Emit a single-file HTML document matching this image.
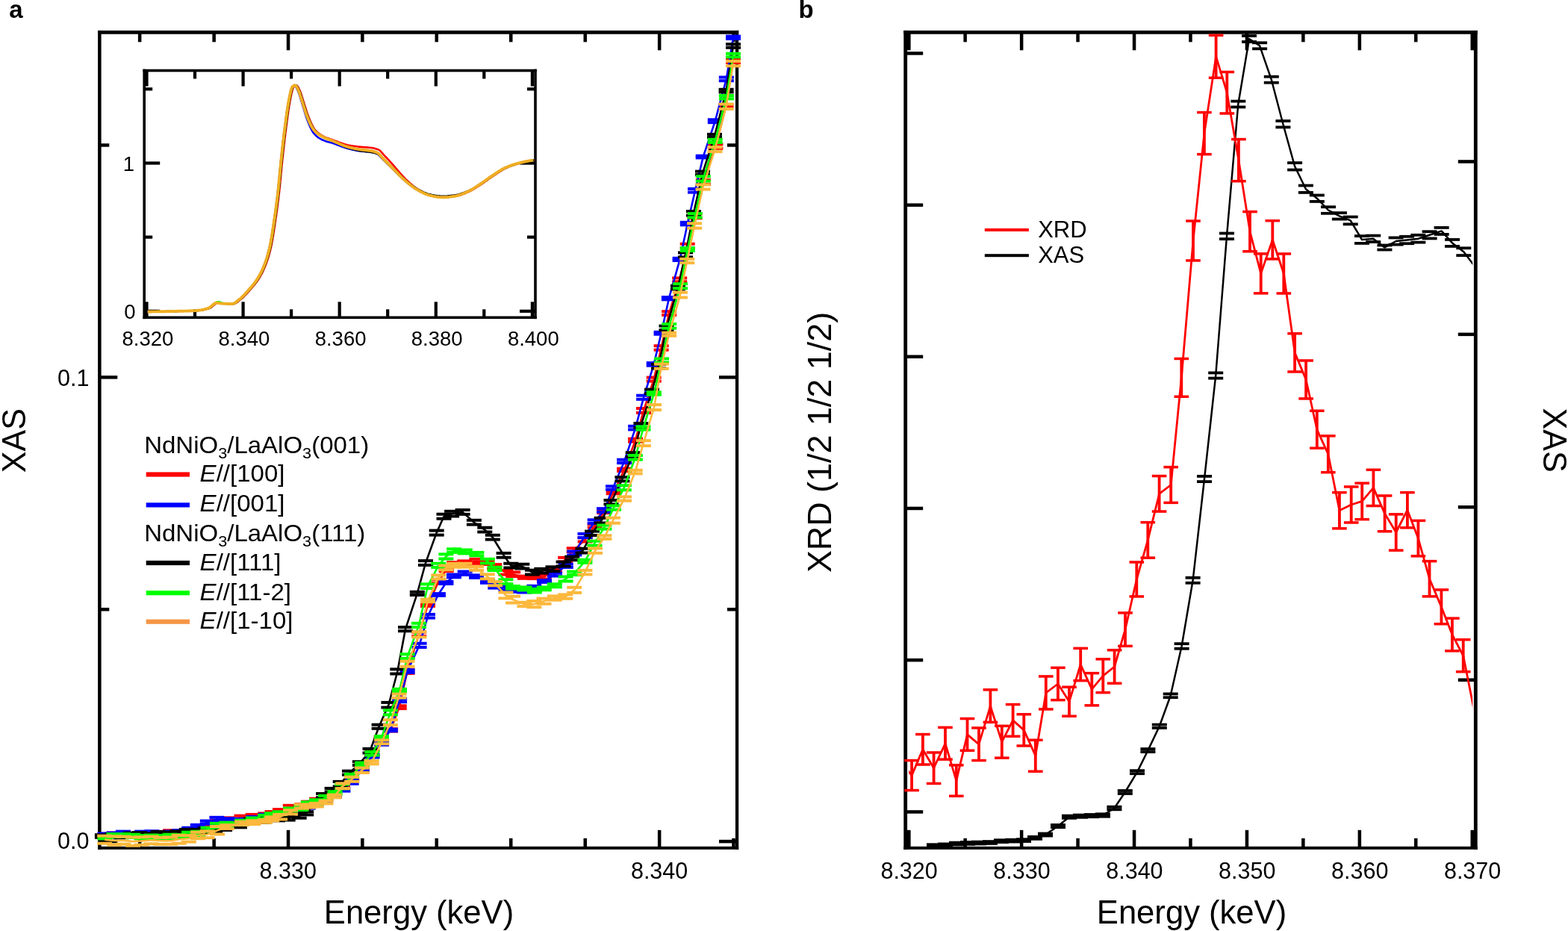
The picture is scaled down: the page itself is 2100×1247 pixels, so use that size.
<!DOCTYPE html>
<html><head><meta charset="utf-8"><title>XAS / XRD figure</title>
<style>html,body{margin:0;padding:0;background:#fff;overflow:hidden}svg{display:block}</style>
</head><body>
<svg width="2100" height="1247" viewBox="0 0 2100 1247" font-family='"Liberation Sans", Arial, Helvetica, sans-serif'>
<rect width="2100" height="1247" fill="#fff"/>
<defs><clipPath id="ca"><rect x="133.3" y="43.3" width="853.7" height="1092.5"/></clipPath>
<clipPath id="cb"><rect x="1217.2" y="43.3" width="755" height="1092.5"/></clipPath></defs>
<rect x="131.1" y="40.9" width="858.1" height="4.8" fill="#000000"/>
<rect x="131.1" y="1133.8" width="858.1" height="4" fill="#000000"/>
<rect x="131.1" y="40.9" width="4.5" height="1096.9" fill="#000000"/>
<rect x="984.9" y="40.9" width="4.3" height="1096.9" fill="#000000"/>
<rect x="184.9" y="43.3" width="4.5" height="13" fill="#000000"/>
<rect x="184.9" y="1122.8" width="4.5" height="13" fill="#000000"/>
<rect x="284.4" y="43.3" width="4.5" height="13" fill="#000000"/>
<rect x="284.4" y="1122.8" width="4.5" height="13" fill="#000000"/>
<rect x="383.8" y="43.3" width="4.5" height="24" fill="#000000"/>
<rect x="383.8" y="1111.8" width="4.5" height="24" fill="#000000"/>
<rect x="483.1" y="43.3" width="4.5" height="13" fill="#000000"/>
<rect x="483.1" y="1122.8" width="4.5" height="13" fill="#000000"/>
<rect x="582.5" y="43.3" width="4.5" height="13" fill="#000000"/>
<rect x="582.5" y="1122.8" width="4.5" height="13" fill="#000000"/>
<rect x="682" y="43.3" width="4.5" height="13" fill="#000000"/>
<rect x="682" y="1122.8" width="4.5" height="13" fill="#000000"/>
<rect x="781.5" y="43.3" width="4.5" height="13" fill="#000000"/>
<rect x="781.5" y="1122.8" width="4.5" height="13" fill="#000000"/>
<rect x="880.9" y="43.3" width="4.5" height="24" fill="#000000"/>
<rect x="880.9" y="1111.8" width="4.5" height="24" fill="#000000"/>
<rect x="980.2" y="43.3" width="4.5" height="13" fill="#000000"/>
<rect x="980.2" y="1122.8" width="4.5" height="13" fill="#000000"/>
<rect x="133.3" y="1124.8" width="24" height="4.5" fill="#000000"/>
<rect x="963" y="1124.8" width="24" height="4.5" fill="#000000"/>
<rect x="133.3" y="814" width="13" height="4.5" fill="#000000"/>
<rect x="974" y="814" width="13" height="4.5" fill="#000000"/>
<rect x="133.3" y="503.1" width="24" height="4.5" fill="#000000"/>
<rect x="963" y="503.1" width="24" height="4.5" fill="#000000"/>
<rect x="133.3" y="192.2" width="13" height="4.5" fill="#000000"/>
<rect x="974" y="192.2" width="13" height="4.5" fill="#000000"/>
<g clip-path="url(#ca)">
<polyline points="140.5,1119.8 152.9,1118.4 164.9,1119 177.2,1119.1 190,1117 202.9,1116.9 214.8,1116.5 228.1,1114.5 240.1,1116.2 252.7,1114.6 264.7,1111.4 277.9,1106.4 291.2,1100.9 304.2,1097.2 323.6,1095.4 338.7,1092.9 355.2,1091.6 364.5,1089.1 375,1086.6 388.8,1081.2 404.3,1079.6 412.9,1075.7 424.2,1071.7 436.5,1069.5 448.2,1062.7 459,1054.9 471.2,1044.2 484.8,1025.3 498.4,1008.3 510.6,988.9 523.1,977.9 534.7,947.2 545.4,899.4 561.2,849.4 573,810.3 587.4,778.9 597.7,763.5 608.2,755.6 622.2,753.9 638.4,751.8 652.4,754 662.2,758.9 677.4,766.8 687.2,769.3 702.9,773.2 715.7,772.9 728.8,772.6 743.1,764.1 757.1,749.5 768.7,736.6 783.7,722.9 796.7,704.2 809.3,685.4 821.7,659.5 836.1,629.4 851,589.7 862,549.9 875.7,508.1 885.6,466 896.1,419.6 910.2,374.9 920.7,329.5 930.6,289.4 941.9,243.9 958.4,196 972.4,141.9 982,81.9" fill="none" stroke="#ff0000" stroke-width="2.6" stroke-linejoin="round" />
</g>
<rect x="130.5" y="1115.9" width="20" height="4" fill="#ff0000"/>
<rect x="130.5" y="1119.8" width="20" height="4" fill="#ff0000"/>
<rect x="142.9" y="1113.6" width="20" height="4" fill="#ff0000"/>
<rect x="142.9" y="1119.2" width="20" height="4" fill="#ff0000"/>
<rect x="154.9" y="1115.1" width="20" height="4" fill="#ff0000"/>
<rect x="154.9" y="1118.9" width="20" height="4" fill="#ff0000"/>
<rect x="167.2" y="1114.2" width="20" height="4" fill="#ff0000"/>
<rect x="167.2" y="1120" width="20" height="4" fill="#ff0000"/>
<rect x="180" y="1112.7" width="20" height="4" fill="#ff0000"/>
<rect x="180" y="1117.3" width="20" height="4" fill="#ff0000"/>
<rect x="192.9" y="1112.4" width="20" height="4" fill="#ff0000"/>
<rect x="192.9" y="1117.3" width="20" height="4" fill="#ff0000"/>
<rect x="204.8" y="1111.9" width="20" height="4" fill="#ff0000"/>
<rect x="204.8" y="1117.2" width="20" height="4" fill="#ff0000"/>
<rect x="218.1" y="1110.2" width="20" height="4" fill="#ff0000"/>
<rect x="218.1" y="1114.8" width="20" height="4" fill="#ff0000"/>
<rect x="230.1" y="1112.2" width="20" height="4" fill="#ff0000"/>
<rect x="230.1" y="1116.3" width="20" height="4" fill="#ff0000"/>
<rect x="242.7" y="1110.7" width="20" height="4" fill="#ff0000"/>
<rect x="242.7" y="1114.4" width="20" height="4" fill="#ff0000"/>
<rect x="254.7" y="1107.7" width="20" height="4" fill="#ff0000"/>
<rect x="254.7" y="1111.1" width="20" height="4" fill="#ff0000"/>
<rect x="267.9" y="1101.8" width="20" height="4" fill="#ff0000"/>
<rect x="267.9" y="1107" width="20" height="4" fill="#ff0000"/>
<rect x="281.2" y="1096.7" width="20" height="4" fill="#ff0000"/>
<rect x="281.2" y="1101.1" width="20" height="4" fill="#ff0000"/>
<rect x="294.2" y="1093.3" width="20" height="4" fill="#ff0000"/>
<rect x="294.2" y="1097" width="20" height="4" fill="#ff0000"/>
<rect x="313.6" y="1090.6" width="20" height="4" fill="#ff0000"/>
<rect x="313.6" y="1096.2" width="20" height="4" fill="#ff0000"/>
<rect x="328.7" y="1088.9" width="20" height="4" fill="#ff0000"/>
<rect x="328.7" y="1092.9" width="20" height="4" fill="#ff0000"/>
<rect x="345.2" y="1087.4" width="20" height="4" fill="#ff0000"/>
<rect x="345.2" y="1091.8" width="20" height="4" fill="#ff0000"/>
<rect x="354.5" y="1085.1" width="20" height="4" fill="#ff0000"/>
<rect x="354.5" y="1089.1" width="20" height="4" fill="#ff0000"/>
<rect x="365" y="1082.1" width="20" height="4" fill="#ff0000"/>
<rect x="365" y="1087" width="20" height="4" fill="#ff0000"/>
<rect x="378.8" y="1076.8" width="20" height="4" fill="#ff0000"/>
<rect x="378.8" y="1081.7" width="20" height="4" fill="#ff0000"/>
<rect x="394.3" y="1075.2" width="20" height="4" fill="#ff0000"/>
<rect x="394.3" y="1080" width="20" height="4" fill="#ff0000"/>
<rect x="402.9" y="1071.7" width="20" height="4" fill="#ff0000"/>
<rect x="402.9" y="1075.6" width="20" height="4" fill="#ff0000"/>
<rect x="414.2" y="1067.7" width="20" height="4" fill="#ff0000"/>
<rect x="414.2" y="1071.7" width="20" height="4" fill="#ff0000"/>
<rect x="426.5" y="1065.6" width="20" height="4" fill="#ff0000"/>
<rect x="426.5" y="1069.5" width="20" height="4" fill="#ff0000"/>
<rect x="438.2" y="1058.6" width="20" height="4" fill="#ff0000"/>
<rect x="438.2" y="1062.7" width="20" height="4" fill="#ff0000"/>
<rect x="449" y="1051.1" width="20" height="4" fill="#ff0000"/>
<rect x="449" y="1054.7" width="20" height="4" fill="#ff0000"/>
<rect x="461.2" y="1040.4" width="20" height="4" fill="#ff0000"/>
<rect x="461.2" y="1044" width="20" height="4" fill="#ff0000"/>
<rect x="474.8" y="1020.3" width="20" height="4" fill="#ff0000"/>
<rect x="474.8" y="1026.2" width="20" height="4" fill="#ff0000"/>
<rect x="488.4" y="1003.4" width="20" height="4" fill="#ff0000"/>
<rect x="488.4" y="1009.3" width="20" height="4" fill="#ff0000"/>
<rect x="500.6" y="985" width="20" height="4" fill="#ff0000"/>
<rect x="500.6" y="988.7" width="20" height="4" fill="#ff0000"/>
<rect x="513.1" y="974.2" width="20" height="4" fill="#ff0000"/>
<rect x="513.1" y="977.5" width="20" height="4" fill="#ff0000"/>
<rect x="524.7" y="943.3" width="20" height="4" fill="#ff0000"/>
<rect x="524.7" y="947.1" width="20" height="4" fill="#ff0000"/>
<rect x="535.4" y="894.8" width="20" height="4" fill="#ff0000"/>
<rect x="535.4" y="900" width="20" height="4" fill="#ff0000"/>
<rect x="551.2" y="844.7" width="20" height="4" fill="#ff0000"/>
<rect x="551.2" y="850.1" width="20" height="4" fill="#ff0000"/>
<rect x="563" y="806.6" width="20" height="4" fill="#ff0000"/>
<rect x="563" y="809.9" width="20" height="4" fill="#ff0000"/>
<rect x="577.4" y="774.4" width="20" height="4" fill="#ff0000"/>
<rect x="577.4" y="779.3" width="20" height="4" fill="#ff0000"/>
<rect x="587.7" y="759.9" width="20" height="4" fill="#ff0000"/>
<rect x="587.7" y="763.1" width="20" height="4" fill="#ff0000"/>
<rect x="598.2" y="751.2" width="20" height="4" fill="#ff0000"/>
<rect x="598.2" y="755.9" width="20" height="4" fill="#ff0000"/>
<rect x="612.2" y="749.4" width="20" height="4" fill="#ff0000"/>
<rect x="612.2" y="754.4" width="20" height="4" fill="#ff0000"/>
<rect x="628.4" y="746.8" width="20" height="4" fill="#ff0000"/>
<rect x="628.4" y="752.8" width="20" height="4" fill="#ff0000"/>
<rect x="642.4" y="750.1" width="20" height="4" fill="#ff0000"/>
<rect x="642.4" y="754" width="20" height="4" fill="#ff0000"/>
<rect x="652.2" y="754.1" width="20" height="4" fill="#ff0000"/>
<rect x="652.2" y="759.6" width="20" height="4" fill="#ff0000"/>
<rect x="667.4" y="762" width="20" height="4" fill="#ff0000"/>
<rect x="667.4" y="767.6" width="20" height="4" fill="#ff0000"/>
<rect x="677.2" y="764.4" width="20" height="4" fill="#ff0000"/>
<rect x="677.2" y="770.1" width="20" height="4" fill="#ff0000"/>
<rect x="692.9" y="769.6" width="20" height="4" fill="#ff0000"/>
<rect x="692.9" y="772.8" width="20" height="4" fill="#ff0000"/>
<rect x="705.7" y="768.6" width="20" height="4" fill="#ff0000"/>
<rect x="705.7" y="773.1" width="20" height="4" fill="#ff0000"/>
<rect x="718.8" y="767.6" width="20" height="4" fill="#ff0000"/>
<rect x="718.8" y="773.5" width="20" height="4" fill="#ff0000"/>
<rect x="733.1" y="759.9" width="20" height="4" fill="#ff0000"/>
<rect x="733.1" y="764.2" width="20" height="4" fill="#ff0000"/>
<rect x="747.1" y="744.8" width="20" height="4" fill="#ff0000"/>
<rect x="747.1" y="750.3" width="20" height="4" fill="#ff0000"/>
<rect x="758.7" y="732.3" width="20" height="4" fill="#ff0000"/>
<rect x="758.7" y="737" width="20" height="4" fill="#ff0000"/>
<rect x="773.7" y="718.2" width="20" height="4" fill="#ff0000"/>
<rect x="773.7" y="723.5" width="20" height="4" fill="#ff0000"/>
<rect x="786.7" y="700" width="20" height="4" fill="#ff0000"/>
<rect x="786.7" y="704.5" width="20" height="4" fill="#ff0000"/>
<rect x="799.3" y="681.8" width="20" height="4" fill="#ff0000"/>
<rect x="799.3" y="685.1" width="20" height="4" fill="#ff0000"/>
<rect x="811.7" y="655.8" width="20" height="4" fill="#ff0000"/>
<rect x="811.7" y="659.2" width="20" height="4" fill="#ff0000"/>
<rect x="826.1" y="625.6" width="20" height="4" fill="#ff0000"/>
<rect x="826.1" y="629.1" width="20" height="4" fill="#ff0000"/>
<rect x="841" y="585.7" width="20" height="4" fill="#ff0000"/>
<rect x="841" y="589.6" width="20" height="4" fill="#ff0000"/>
<rect x="852" y="545" width="20" height="4" fill="#ff0000"/>
<rect x="852" y="550.9" width="20" height="4" fill="#ff0000"/>
<rect x="865.7" y="503.6" width="20" height="4" fill="#ff0000"/>
<rect x="865.7" y="508.6" width="20" height="4" fill="#ff0000"/>
<rect x="875.6" y="461.2" width="20" height="4" fill="#ff0000"/>
<rect x="875.6" y="466.7" width="20" height="4" fill="#ff0000"/>
<rect x="886.1" y="415.2" width="20" height="4" fill="#ff0000"/>
<rect x="886.1" y="420" width="20" height="4" fill="#ff0000"/>
<rect x="900.2" y="370.4" width="20" height="4" fill="#ff0000"/>
<rect x="900.2" y="375.3" width="20" height="4" fill="#ff0000"/>
<rect x="910.7" y="324.7" width="20" height="4" fill="#ff0000"/>
<rect x="910.7" y="330.2" width="20" height="4" fill="#ff0000"/>
<rect x="920.6" y="284.5" width="20" height="4" fill="#ff0000"/>
<rect x="920.6" y="290.3" width="20" height="4" fill="#ff0000"/>
<rect x="931.9" y="239" width="20" height="4" fill="#ff0000"/>
<rect x="931.9" y="244.8" width="20" height="4" fill="#ff0000"/>
<rect x="948.4" y="191.2" width="20" height="4" fill="#ff0000"/>
<rect x="948.4" y="196.7" width="20" height="4" fill="#ff0000"/>
<rect x="962.4" y="138.2" width="20" height="4" fill="#ff0000"/>
<rect x="962.4" y="141.6" width="20" height="4" fill="#ff0000"/>
<rect x="972" y="77.8" width="20" height="4" fill="#ff0000"/>
<rect x="972" y="82" width="20" height="4" fill="#ff0000"/>
<g clip-path="url(#ca)">
<polyline points="140.5,1117.7 152.7,1117.5 164.9,1115.9 178.2,1117.5 190.1,1115.2 203.2,1115 215.1,1115.9 228.4,1115.8 240.3,1113.8 253.2,1110.8 264.8,1106.7 277.8,1101.6 290.4,1097.4 304.2,1098.8 323.5,1098.3 339.3,1096.4 355.6,1092.5 363.7,1091.9 374.8,1089.7 388.9,1087 404.2,1083.4 412.7,1080.9 424,1076.8 435.8,1072.3 447.9,1066.1 459.4,1057.7 470.7,1047.4 485,1031.6 498.6,1012.6 511.1,995.5 522.8,978 535.1,938.2 545.6,899.2 561.6,864.4 573,825.3 586.9,796.5 597.4,780.5 608,771.4 622.7,767.7 638,772.1 653,779 663.3,785.1 677.5,788 687.8,791 702,791.1 715.4,786.5 729,778.5 743,769.5 757.8,757.7 769.3,740.9 783.5,717.5 796.7,698.6 809,683.5 821,653.5 836.1,617.9 851.1,573.1 862.1,532.2 875.7,487.9 885.6,446.3 895.9,399.7 910.6,347.4 920.8,299.5 931,255.3 941.7,210.1 957.8,162.2 972.8,105.8 982,50.2" fill="none" stroke="#0000ff" stroke-width="2.6" stroke-linejoin="round" />
</g>
<rect x="130.5" y="1114.4" width="20" height="4" fill="#0000ff"/>
<rect x="130.5" y="1117.1" width="20" height="4" fill="#0000ff"/>
<rect x="142.7" y="1113.5" width="20" height="4" fill="#0000ff"/>
<rect x="142.7" y="1117.5" width="20" height="4" fill="#0000ff"/>
<rect x="154.9" y="1111.6" width="20" height="4" fill="#0000ff"/>
<rect x="154.9" y="1116.3" width="20" height="4" fill="#0000ff"/>
<rect x="168.2" y="1114.1" width="20" height="4" fill="#0000ff"/>
<rect x="168.2" y="1116.9" width="20" height="4" fill="#0000ff"/>
<rect x="180.1" y="1111.6" width="20" height="4" fill="#0000ff"/>
<rect x="180.1" y="1114.7" width="20" height="4" fill="#0000ff"/>
<rect x="193.2" y="1111.2" width="20" height="4" fill="#0000ff"/>
<rect x="193.2" y="1114.8" width="20" height="4" fill="#0000ff"/>
<rect x="205.1" y="1112.3" width="20" height="4" fill="#0000ff"/>
<rect x="205.1" y="1115.6" width="20" height="4" fill="#0000ff"/>
<rect x="218.4" y="1111.4" width="20" height="4" fill="#0000ff"/>
<rect x="218.4" y="1116.1" width="20" height="4" fill="#0000ff"/>
<rect x="230.3" y="1110" width="20" height="4" fill="#0000ff"/>
<rect x="230.3" y="1113.5" width="20" height="4" fill="#0000ff"/>
<rect x="243.2" y="1106.7" width="20" height="4" fill="#0000ff"/>
<rect x="243.2" y="1110.9" width="20" height="4" fill="#0000ff"/>
<rect x="254.8" y="1102.8" width="20" height="4" fill="#0000ff"/>
<rect x="254.8" y="1106.7" width="20" height="4" fill="#0000ff"/>
<rect x="267.8" y="1097.5" width="20" height="4" fill="#0000ff"/>
<rect x="267.8" y="1101.6" width="20" height="4" fill="#0000ff"/>
<rect x="280.4" y="1092.8" width="20" height="4" fill="#0000ff"/>
<rect x="280.4" y="1097.9" width="20" height="4" fill="#0000ff"/>
<rect x="294.2" y="1094.2" width="20" height="4" fill="#0000ff"/>
<rect x="294.2" y="1099.3" width="20" height="4" fill="#0000ff"/>
<rect x="313.5" y="1094.8" width="20" height="4" fill="#0000ff"/>
<rect x="313.5" y="1097.7" width="20" height="4" fill="#0000ff"/>
<rect x="329.3" y="1092" width="20" height="4" fill="#0000ff"/>
<rect x="329.3" y="1096.8" width="20" height="4" fill="#0000ff"/>
<rect x="345.6" y="1088.7" width="20" height="4" fill="#0000ff"/>
<rect x="345.6" y="1092.2" width="20" height="4" fill="#0000ff"/>
<rect x="353.7" y="1088.4" width="20" height="4" fill="#0000ff"/>
<rect x="353.7" y="1091.3" width="20" height="4" fill="#0000ff"/>
<rect x="364.8" y="1085.9" width="20" height="4" fill="#0000ff"/>
<rect x="364.8" y="1089.5" width="20" height="4" fill="#0000ff"/>
<rect x="378.9" y="1083.1" width="20" height="4" fill="#0000ff"/>
<rect x="378.9" y="1087" width="20" height="4" fill="#0000ff"/>
<rect x="394.2" y="1078.9" width="20" height="4" fill="#0000ff"/>
<rect x="394.2" y="1084" width="20" height="4" fill="#0000ff"/>
<rect x="402.7" y="1077.1" width="20" height="4" fill="#0000ff"/>
<rect x="402.7" y="1080.7" width="20" height="4" fill="#0000ff"/>
<rect x="414" y="1073.5" width="20" height="4" fill="#0000ff"/>
<rect x="414" y="1076.1" width="20" height="4" fill="#0000ff"/>
<rect x="425.8" y="1067.9" width="20" height="4" fill="#0000ff"/>
<rect x="425.8" y="1072.7" width="20" height="4" fill="#0000ff"/>
<rect x="437.9" y="1062.7" width="20" height="4" fill="#0000ff"/>
<rect x="437.9" y="1065.6" width="20" height="4" fill="#0000ff"/>
<rect x="449.4" y="1053.8" width="20" height="4" fill="#0000ff"/>
<rect x="449.4" y="1057.6" width="20" height="4" fill="#0000ff"/>
<rect x="460.7" y="1043" width="20" height="4" fill="#0000ff"/>
<rect x="460.7" y="1047.8" width="20" height="4" fill="#0000ff"/>
<rect x="475" y="1027.7" width="20" height="4" fill="#0000ff"/>
<rect x="475" y="1031.6" width="20" height="4" fill="#0000ff"/>
<rect x="488.6" y="1008.7" width="20" height="4" fill="#0000ff"/>
<rect x="488.6" y="1012.5" width="20" height="4" fill="#0000ff"/>
<rect x="501.1" y="991.2" width="20" height="4" fill="#0000ff"/>
<rect x="501.1" y="995.8" width="20" height="4" fill="#0000ff"/>
<rect x="512.8" y="974.7" width="20" height="4" fill="#0000ff"/>
<rect x="512.8" y="977.3" width="20" height="4" fill="#0000ff"/>
<rect x="525.1" y="934.1" width="20" height="4" fill="#0000ff"/>
<rect x="525.1" y="938.2" width="20" height="4" fill="#0000ff"/>
<rect x="535.6" y="895.3" width="20" height="4" fill="#0000ff"/>
<rect x="535.6" y="899" width="20" height="4" fill="#0000ff"/>
<rect x="551.6" y="859.8" width="20" height="4" fill="#0000ff"/>
<rect x="551.6" y="865" width="20" height="4" fill="#0000ff"/>
<rect x="563" y="820.9" width="20" height="4" fill="#0000ff"/>
<rect x="563" y="825.6" width="20" height="4" fill="#0000ff"/>
<rect x="576.9" y="793.1" width="20" height="4" fill="#0000ff"/>
<rect x="576.9" y="795.9" width="20" height="4" fill="#0000ff"/>
<rect x="587.4" y="776.9" width="20" height="4" fill="#0000ff"/>
<rect x="587.4" y="780" width="20" height="4" fill="#0000ff"/>
<rect x="598" y="767.5" width="20" height="4" fill="#0000ff"/>
<rect x="598" y="771.3" width="20" height="4" fill="#0000ff"/>
<rect x="612.7" y="763.5" width="20" height="4" fill="#0000ff"/>
<rect x="612.7" y="767.9" width="20" height="4" fill="#0000ff"/>
<rect x="628" y="768.4" width="20" height="4" fill="#0000ff"/>
<rect x="628" y="771.9" width="20" height="4" fill="#0000ff"/>
<rect x="643" y="775.3" width="20" height="4" fill="#0000ff"/>
<rect x="643" y="778.8" width="20" height="4" fill="#0000ff"/>
<rect x="653.3" y="780.6" width="20" height="4" fill="#0000ff"/>
<rect x="653.3" y="785.6" width="20" height="4" fill="#0000ff"/>
<rect x="667.5" y="783.5" width="20" height="4" fill="#0000ff"/>
<rect x="667.5" y="788.6" width="20" height="4" fill="#0000ff"/>
<rect x="677.8" y="787.2" width="20" height="4" fill="#0000ff"/>
<rect x="677.8" y="790.8" width="20" height="4" fill="#0000ff"/>
<rect x="692" y="786.6" width="20" height="4" fill="#0000ff"/>
<rect x="692" y="791.5" width="20" height="4" fill="#0000ff"/>
<rect x="705.4" y="782.8" width="20" height="4" fill="#0000ff"/>
<rect x="705.4" y="786.2" width="20" height="4" fill="#0000ff"/>
<rect x="719" y="775.1" width="20" height="4" fill="#0000ff"/>
<rect x="719" y="777.9" width="20" height="4" fill="#0000ff"/>
<rect x="733" y="765.6" width="20" height="4" fill="#0000ff"/>
<rect x="733" y="769.5" width="20" height="4" fill="#0000ff"/>
<rect x="747.8" y="753.6" width="20" height="4" fill="#0000ff"/>
<rect x="747.8" y="757.9" width="20" height="4" fill="#0000ff"/>
<rect x="759.3" y="736.5" width="20" height="4" fill="#0000ff"/>
<rect x="759.3" y="741.4" width="20" height="4" fill="#0000ff"/>
<rect x="773.5" y="713" width="20" height="4" fill="#0000ff"/>
<rect x="773.5" y="718.1" width="20" height="4" fill="#0000ff"/>
<rect x="786.7" y="694.3" width="20" height="4" fill="#0000ff"/>
<rect x="786.7" y="698.9" width="20" height="4" fill="#0000ff"/>
<rect x="799" y="679.2" width="20" height="4" fill="#0000ff"/>
<rect x="799" y="683.8" width="20" height="4" fill="#0000ff"/>
<rect x="811" y="649.3" width="20" height="4" fill="#0000ff"/>
<rect x="811" y="653.7" width="20" height="4" fill="#0000ff"/>
<rect x="826.1" y="613.7" width="20" height="4" fill="#0000ff"/>
<rect x="826.1" y="618.1" width="20" height="4" fill="#0000ff"/>
<rect x="841.1" y="568.8" width="20" height="4" fill="#0000ff"/>
<rect x="841.1" y="573.4" width="20" height="4" fill="#0000ff"/>
<rect x="852.1" y="527.7" width="20" height="4" fill="#0000ff"/>
<rect x="852.1" y="532.8" width="20" height="4" fill="#0000ff"/>
<rect x="865.7" y="484.1" width="20" height="4" fill="#0000ff"/>
<rect x="865.7" y="487.7" width="20" height="4" fill="#0000ff"/>
<rect x="875.6" y="442.8" width="20" height="4" fill="#0000ff"/>
<rect x="875.6" y="445.7" width="20" height="4" fill="#0000ff"/>
<rect x="885.9" y="396.1" width="20" height="4" fill="#0000ff"/>
<rect x="885.9" y="399.3" width="20" height="4" fill="#0000ff"/>
<rect x="900.6" y="343.8" width="20" height="4" fill="#0000ff"/>
<rect x="900.6" y="347" width="20" height="4" fill="#0000ff"/>
<rect x="910.8" y="295.8" width="20" height="4" fill="#0000ff"/>
<rect x="910.8" y="299.3" width="20" height="4" fill="#0000ff"/>
<rect x="921" y="250.9" width="20" height="4" fill="#0000ff"/>
<rect x="921" y="255.6" width="20" height="4" fill="#0000ff"/>
<rect x="931.7" y="206.7" width="20" height="4" fill="#0000ff"/>
<rect x="931.7" y="209.4" width="20" height="4" fill="#0000ff"/>
<rect x="947.8" y="158.3" width="20" height="4" fill="#0000ff"/>
<rect x="947.8" y="162.1" width="20" height="4" fill="#0000ff"/>
<rect x="962.8" y="101.5" width="20" height="4" fill="#0000ff"/>
<rect x="962.8" y="106.2" width="20" height="4" fill="#0000ff"/>
<rect x="972" y="46.6" width="20" height="4" fill="#0000ff"/>
<rect x="972" y="49.9" width="20" height="4" fill="#0000ff"/>
<g clip-path="url(#ca)">
<polyline points="136.9,1120 150.5,1119.1 162.3,1120.4 175,1118.5 186.9,1117.1 200,1118.3 211.5,1117 225.3,1117.7 237.1,1116 250,1114.1 261.6,1112.7 274.8,1112.3 288.2,1111.5 301.1,1109.6 320.9,1105.2 336.2,1099.3 352.3,1098.6 360.8,1096.2 371.8,1096.6 385.7,1096 400.7,1092.9 410.2,1089.3 421.2,1076 433.1,1065.6 444.6,1058.2 455.7,1050.2 468,1035.2 481.9,1022.6 495.5,1005.7 507.6,973.2 520.4,944.3 532.3,899.5 543,842.6 558.8,794.9 570,754 584.7,713.6 594.5,691.7 605.1,688.2 619.6,685.9 634.9,699.7 649.3,709.6 659.8,719.7 674.6,743.8 684.3,757.6 699.3,758.6 713,766.6 725.3,764.7 740.5,762.2 754.6,755.5 766.2,748 780.5,737.6 793,714.3 805.6,697.1 818.5,672.7 833.4,641.8 847.7,609 858.4,570 873,524.4 882.1,490.7 892.5,439.4 907.9,385.1 918,341.4 928.9,285.8 941,231.8 957,182 972.6,121.6 982,61.5" fill="none" stroke="#000000" stroke-width="2.6" stroke-linejoin="round" />
</g>
<rect x="126.9" y="1116.2" width="20" height="4" fill="#000000"/>
<rect x="126.9" y="1119.8" width="20" height="4" fill="#000000"/>
<rect x="140.5" y="1114.9" width="20" height="4" fill="#000000"/>
<rect x="140.5" y="1119.2" width="20" height="4" fill="#000000"/>
<rect x="152.3" y="1116.5" width="20" height="4" fill="#000000"/>
<rect x="152.3" y="1120.2" width="20" height="4" fill="#000000"/>
<rect x="165" y="1113.5" width="20" height="4" fill="#000000"/>
<rect x="165" y="1119.6" width="20" height="4" fill="#000000"/>
<rect x="176.9" y="1113.1" width="20" height="4" fill="#000000"/>
<rect x="176.9" y="1117.1" width="20" height="4" fill="#000000"/>
<rect x="190" y="1114.3" width="20" height="4" fill="#000000"/>
<rect x="190" y="1118.4" width="20" height="4" fill="#000000"/>
<rect x="201.5" y="1111.9" width="20" height="4" fill="#000000"/>
<rect x="201.5" y="1118.1" width="20" height="4" fill="#000000"/>
<rect x="215.3" y="1112.6" width="20" height="4" fill="#000000"/>
<rect x="215.3" y="1118.7" width="20" height="4" fill="#000000"/>
<rect x="227.1" y="1111.3" width="20" height="4" fill="#000000"/>
<rect x="227.1" y="1116.7" width="20" height="4" fill="#000000"/>
<rect x="240" y="1108.8" width="20" height="4" fill="#000000"/>
<rect x="240" y="1115.3" width="20" height="4" fill="#000000"/>
<rect x="251.6" y="1108.9" width="20" height="4" fill="#000000"/>
<rect x="251.6" y="1112.5" width="20" height="4" fill="#000000"/>
<rect x="264.8" y="1107" width="20" height="4" fill="#000000"/>
<rect x="264.8" y="1113.7" width="20" height="4" fill="#000000"/>
<rect x="278.2" y="1106.8" width="20" height="4" fill="#000000"/>
<rect x="278.2" y="1112.2" width="20" height="4" fill="#000000"/>
<rect x="291.1" y="1105.4" width="20" height="4" fill="#000000"/>
<rect x="291.1" y="1109.9" width="20" height="4" fill="#000000"/>
<rect x="310.9" y="1100.1" width="20" height="4" fill="#000000"/>
<rect x="310.9" y="1106.3" width="20" height="4" fill="#000000"/>
<rect x="326.2" y="1094.5" width="20" height="4" fill="#000000"/>
<rect x="326.2" y="1100.2" width="20" height="4" fill="#000000"/>
<rect x="342.3" y="1093.2" width="20" height="4" fill="#000000"/>
<rect x="342.3" y="1100" width="20" height="4" fill="#000000"/>
<rect x="350.8" y="1092.4" width="20" height="4" fill="#000000"/>
<rect x="350.8" y="1096.1" width="20" height="4" fill="#000000"/>
<rect x="361.8" y="1091.9" width="20" height="4" fill="#000000"/>
<rect x="361.8" y="1097.3" width="20" height="4" fill="#000000"/>
<rect x="375.7" y="1091.5" width="20" height="4" fill="#000000"/>
<rect x="375.7" y="1096.5" width="20" height="4" fill="#000000"/>
<rect x="390.7" y="1088.1" width="20" height="4" fill="#000000"/>
<rect x="390.7" y="1093.7" width="20" height="4" fill="#000000"/>
<rect x="400.2" y="1085.2" width="20" height="4" fill="#000000"/>
<rect x="400.2" y="1089.4" width="20" height="4" fill="#000000"/>
<rect x="411.2" y="1072.2" width="20" height="4" fill="#000000"/>
<rect x="411.2" y="1075.7" width="20" height="4" fill="#000000"/>
<rect x="423.1" y="1061" width="20" height="4" fill="#000000"/>
<rect x="423.1" y="1066.2" width="20" height="4" fill="#000000"/>
<rect x="434.6" y="1053.9" width="20" height="4" fill="#000000"/>
<rect x="434.6" y="1058.5" width="20" height="4" fill="#000000"/>
<rect x="445.7" y="1044.9" width="20" height="4" fill="#000000"/>
<rect x="445.7" y="1051.4" width="20" height="4" fill="#000000"/>
<rect x="458" y="1030.7" width="20" height="4" fill="#000000"/>
<rect x="458" y="1035.7" width="20" height="4" fill="#000000"/>
<rect x="471.9" y="1018.2" width="20" height="4" fill="#000000"/>
<rect x="471.9" y="1023" width="20" height="4" fill="#000000"/>
<rect x="485.5" y="1000.9" width="20" height="4" fill="#000000"/>
<rect x="485.5" y="1006.5" width="20" height="4" fill="#000000"/>
<rect x="497.6" y="968.7" width="20" height="4" fill="#000000"/>
<rect x="497.6" y="973.8" width="20" height="4" fill="#000000"/>
<rect x="510.4" y="938.9" width="20" height="4" fill="#000000"/>
<rect x="510.4" y="945.6" width="20" height="4" fill="#000000"/>
<rect x="522.3" y="894.4" width="20" height="4" fill="#000000"/>
<rect x="522.3" y="900.5" width="20" height="4" fill="#000000"/>
<rect x="533" y="838.1" width="20" height="4" fill="#000000"/>
<rect x="533" y="843.2" width="20" height="4" fill="#000000"/>
<rect x="548.8" y="790.8" width="20" height="4" fill="#000000"/>
<rect x="548.8" y="795" width="20" height="4" fill="#000000"/>
<rect x="560" y="749.1" width="20" height="4" fill="#000000"/>
<rect x="560" y="754.9" width="20" height="4" fill="#000000"/>
<rect x="574.7" y="708.6" width="20" height="4" fill="#000000"/>
<rect x="574.7" y="714.6" width="20" height="4" fill="#000000"/>
<rect x="584.5" y="686.7" width="20" height="4" fill="#000000"/>
<rect x="584.5" y="692.7" width="20" height="4" fill="#000000"/>
<rect x="595.1" y="682.8" width="20" height="4" fill="#000000"/>
<rect x="595.1" y="689.5" width="20" height="4" fill="#000000"/>
<rect x="609.6" y="681" width="20" height="4" fill="#000000"/>
<rect x="609.6" y="686.8" width="20" height="4" fill="#000000"/>
<rect x="624.9" y="694.8" width="20" height="4" fill="#000000"/>
<rect x="624.9" y="700.6" width="20" height="4" fill="#000000"/>
<rect x="639.3" y="704.7" width="20" height="4" fill="#000000"/>
<rect x="639.3" y="710.5" width="20" height="4" fill="#000000"/>
<rect x="649.8" y="714.8" width="20" height="4" fill="#000000"/>
<rect x="649.8" y="720.6" width="20" height="4" fill="#000000"/>
<rect x="664.6" y="738.9" width="20" height="4" fill="#000000"/>
<rect x="664.6" y="744.7" width="20" height="4" fill="#000000"/>
<rect x="674.3" y="752.7" width="20" height="4" fill="#000000"/>
<rect x="674.3" y="758.5" width="20" height="4" fill="#000000"/>
<rect x="689.3" y="753.7" width="20" height="4" fill="#000000"/>
<rect x="689.3" y="759.5" width="20" height="4" fill="#000000"/>
<rect x="703" y="761.7" width="20" height="4" fill="#000000"/>
<rect x="703" y="767.5" width="20" height="4" fill="#000000"/>
<rect x="715.3" y="759.8" width="20" height="4" fill="#000000"/>
<rect x="715.3" y="765.6" width="20" height="4" fill="#000000"/>
<rect x="730.5" y="757.3" width="20" height="4" fill="#000000"/>
<rect x="730.5" y="763.1" width="20" height="4" fill="#000000"/>
<rect x="744.6" y="750.6" width="20" height="4" fill="#000000"/>
<rect x="744.6" y="756.4" width="20" height="4" fill="#000000"/>
<rect x="756.2" y="743.7" width="20" height="4" fill="#000000"/>
<rect x="756.2" y="748.2" width="20" height="4" fill="#000000"/>
<rect x="770.5" y="732.8" width="20" height="4" fill="#000000"/>
<rect x="770.5" y="738.5" width="20" height="4" fill="#000000"/>
<rect x="783" y="709.6" width="20" height="4" fill="#000000"/>
<rect x="783" y="715" width="20" height="4" fill="#000000"/>
<rect x="795.6" y="691.8" width="20" height="4" fill="#000000"/>
<rect x="795.6" y="698.5" width="20" height="4" fill="#000000"/>
<rect x="808.5" y="668" width="20" height="4" fill="#000000"/>
<rect x="808.5" y="673.3" width="20" height="4" fill="#000000"/>
<rect x="823.4" y="637.2" width="20" height="4" fill="#000000"/>
<rect x="823.4" y="642.4" width="20" height="4" fill="#000000"/>
<rect x="837.7" y="604.2" width="20" height="4" fill="#000000"/>
<rect x="837.7" y="609.8" width="20" height="4" fill="#000000"/>
<rect x="848.4" y="565" width="20" height="4" fill="#000000"/>
<rect x="848.4" y="570.9" width="20" height="4" fill="#000000"/>
<rect x="863" y="519.6" width="20" height="4" fill="#000000"/>
<rect x="863" y="525.1" width="20" height="4" fill="#000000"/>
<rect x="872.1" y="486" width="20" height="4" fill="#000000"/>
<rect x="872.1" y="491.4" width="20" height="4" fill="#000000"/>
<rect x="882.5" y="434.6" width="20" height="4" fill="#000000"/>
<rect x="882.5" y="440.1" width="20" height="4" fill="#000000"/>
<rect x="897.9" y="380.8" width="20" height="4" fill="#000000"/>
<rect x="897.9" y="385.4" width="20" height="4" fill="#000000"/>
<rect x="908" y="336.4" width="20" height="4" fill="#000000"/>
<rect x="908" y="342.4" width="20" height="4" fill="#000000"/>
<rect x="918.9" y="281.1" width="20" height="4" fill="#000000"/>
<rect x="918.9" y="286.6" width="20" height="4" fill="#000000"/>
<rect x="931" y="227.6" width="20" height="4" fill="#000000"/>
<rect x="931" y="232.1" width="20" height="4" fill="#000000"/>
<rect x="947" y="177.9" width="20" height="4" fill="#000000"/>
<rect x="947" y="182.1" width="20" height="4" fill="#000000"/>
<rect x="962.6" y="117.8" width="20" height="4" fill="#000000"/>
<rect x="962.6" y="121.4" width="20" height="4" fill="#000000"/>
<rect x="972" y="57.2" width="20" height="4" fill="#000000"/>
<rect x="972" y="61.8" width="20" height="4" fill="#000000"/>
<g clip-path="url(#ca)">
<polyline points="140.5,1121.7 152.5,1118.9 164.9,1118.8 178.3,1119.9 189.6,1121.2 202.7,1121.1 214.6,1121.7 227.6,1120.3 239.7,1119.9 253.1,1117.8 265.4,1116.4 278.5,1111.1 291,1105.5 303.4,1104.1 324,1100.6 338.9,1098 355.1,1095 364,1092.1 374.5,1089.2 389.1,1084.3 403.4,1081.9 412.8,1077.4 424.1,1074 436.1,1068.7 448.5,1062.1 458.3,1053.5 471.1,1038.9 485.2,1023.6 498.4,1009.3 511,987.7 522.9,954.3 535,924.9 545.7,879.1 561,837.3 572.8,785.2 587.3,757.3 597.4,745.4 608.1,737.6 622.8,739 638.4,742.1 652.9,751.6 662.6,761.8 677.4,779.2 686.9,786.8 702.4,788.4 715.8,791.1 728.8,788.4 742.8,784.3 757.6,775.5 769.2,767.9 783.4,751.8 796.4,727.6 809.4,706.1 822,680 835.8,653.3 850.9,612.8 861.5,573.5 875.9,527 886.1,482.9 896.2,436.8 911.1,383.1 920.8,334 930.7,288.8 941.8,239.4 957.7,188.8 972.9,130.1 982,74.1" fill="none" stroke="#00ff00" stroke-width="2.6" stroke-linejoin="round" />
</g>
<rect x="130.5" y="1118" width="20" height="4" fill="#00ff00"/>
<rect x="130.5" y="1121.4" width="20" height="4" fill="#00ff00"/>
<rect x="142.5" y="1115" width="20" height="4" fill="#00ff00"/>
<rect x="142.5" y="1118.9" width="20" height="4" fill="#00ff00"/>
<rect x="154.9" y="1115" width="20" height="4" fill="#00ff00"/>
<rect x="154.9" y="1118.6" width="20" height="4" fill="#00ff00"/>
<rect x="168.3" y="1115.7" width="20" height="4" fill="#00ff00"/>
<rect x="168.3" y="1120" width="20" height="4" fill="#00ff00"/>
<rect x="179.6" y="1117" width="20" height="4" fill="#00ff00"/>
<rect x="179.6" y="1121.4" width="20" height="4" fill="#00ff00"/>
<rect x="192.7" y="1116.5" width="20" height="4" fill="#00ff00"/>
<rect x="192.7" y="1121.7" width="20" height="4" fill="#00ff00"/>
<rect x="204.6" y="1116.9" width="20" height="4" fill="#00ff00"/>
<rect x="204.6" y="1122.6" width="20" height="4" fill="#00ff00"/>
<rect x="217.6" y="1115.7" width="20" height="4" fill="#00ff00"/>
<rect x="217.6" y="1121" width="20" height="4" fill="#00ff00"/>
<rect x="229.7" y="1115.9" width="20" height="4" fill="#00ff00"/>
<rect x="229.7" y="1119.8" width="20" height="4" fill="#00ff00"/>
<rect x="243.1" y="1112.7" width="20" height="4" fill="#00ff00"/>
<rect x="243.1" y="1118.8" width="20" height="4" fill="#00ff00"/>
<rect x="255.4" y="1111.6" width="20" height="4" fill="#00ff00"/>
<rect x="255.4" y="1117.2" width="20" height="4" fill="#00ff00"/>
<rect x="268.5" y="1106.7" width="20" height="4" fill="#00ff00"/>
<rect x="268.5" y="1111.6" width="20" height="4" fill="#00ff00"/>
<rect x="281" y="1100.8" width="20" height="4" fill="#00ff00"/>
<rect x="281" y="1106.2" width="20" height="4" fill="#00ff00"/>
<rect x="293.4" y="1099.6" width="20" height="4" fill="#00ff00"/>
<rect x="293.4" y="1104.6" width="20" height="4" fill="#00ff00"/>
<rect x="314" y="1096.6" width="20" height="4" fill="#00ff00"/>
<rect x="314" y="1100.5" width="20" height="4" fill="#00ff00"/>
<rect x="328.9" y="1093.4" width="20" height="4" fill="#00ff00"/>
<rect x="328.9" y="1098.7" width="20" height="4" fill="#00ff00"/>
<rect x="345.1" y="1089.8" width="20" height="4" fill="#00ff00"/>
<rect x="345.1" y="1096.2" width="20" height="4" fill="#00ff00"/>
<rect x="354" y="1087.2" width="20" height="4" fill="#00ff00"/>
<rect x="354" y="1092.9" width="20" height="4" fill="#00ff00"/>
<rect x="364.5" y="1085.3" width="20" height="4" fill="#00ff00"/>
<rect x="364.5" y="1089.2" width="20" height="4" fill="#00ff00"/>
<rect x="379.1" y="1080.4" width="20" height="4" fill="#00ff00"/>
<rect x="379.1" y="1084.2" width="20" height="4" fill="#00ff00"/>
<rect x="393.4" y="1076.8" width="20" height="4" fill="#00ff00"/>
<rect x="393.4" y="1083" width="20" height="4" fill="#00ff00"/>
<rect x="402.8" y="1072.4" width="20" height="4" fill="#00ff00"/>
<rect x="402.8" y="1078.5" width="20" height="4" fill="#00ff00"/>
<rect x="414.1" y="1069.2" width="20" height="4" fill="#00ff00"/>
<rect x="414.1" y="1074.9" width="20" height="4" fill="#00ff00"/>
<rect x="426.1" y="1063.9" width="20" height="4" fill="#00ff00"/>
<rect x="426.1" y="1069.5" width="20" height="4" fill="#00ff00"/>
<rect x="438.5" y="1058.2" width="20" height="4" fill="#00ff00"/>
<rect x="438.5" y="1062" width="20" height="4" fill="#00ff00"/>
<rect x="448.3" y="1048.6" width="20" height="4" fill="#00ff00"/>
<rect x="448.3" y="1054.4" width="20" height="4" fill="#00ff00"/>
<rect x="461.1" y="1034.9" width="20" height="4" fill="#00ff00"/>
<rect x="461.1" y="1038.9" width="20" height="4" fill="#00ff00"/>
<rect x="475.2" y="1019.6" width="20" height="4" fill="#00ff00"/>
<rect x="475.2" y="1023.5" width="20" height="4" fill="#00ff00"/>
<rect x="488.4" y="1005" width="20" height="4" fill="#00ff00"/>
<rect x="488.4" y="1009.6" width="20" height="4" fill="#00ff00"/>
<rect x="501" y="984" width="20" height="4" fill="#00ff00"/>
<rect x="501" y="987.4" width="20" height="4" fill="#00ff00"/>
<rect x="512.9" y="949.4" width="20" height="4" fill="#00ff00"/>
<rect x="512.9" y="955.3" width="20" height="4" fill="#00ff00"/>
<rect x="525" y="920.9" width="20" height="4" fill="#00ff00"/>
<rect x="525" y="924.8" width="20" height="4" fill="#00ff00"/>
<rect x="535.7" y="874.2" width="20" height="4" fill="#00ff00"/>
<rect x="535.7" y="879.9" width="20" height="4" fill="#00ff00"/>
<rect x="551" y="832.8" width="20" height="4" fill="#00ff00"/>
<rect x="551" y="837.9" width="20" height="4" fill="#00ff00"/>
<rect x="562.8" y="780.4" width="20" height="4" fill="#00ff00"/>
<rect x="562.8" y="786.1" width="20" height="4" fill="#00ff00"/>
<rect x="577.3" y="752.7" width="20" height="4" fill="#00ff00"/>
<rect x="577.3" y="757.9" width="20" height="4" fill="#00ff00"/>
<rect x="587.4" y="740.3" width="20" height="4" fill="#00ff00"/>
<rect x="587.4" y="746.5" width="20" height="4" fill="#00ff00"/>
<rect x="598.1" y="733.3" width="20" height="4" fill="#00ff00"/>
<rect x="598.1" y="737.9" width="20" height="4" fill="#00ff00"/>
<rect x="612.8" y="734.5" width="20" height="4" fill="#00ff00"/>
<rect x="612.8" y="739.4" width="20" height="4" fill="#00ff00"/>
<rect x="628.4" y="737.9" width="20" height="4" fill="#00ff00"/>
<rect x="628.4" y="742.3" width="20" height="4" fill="#00ff00"/>
<rect x="642.9" y="746.8" width="20" height="4" fill="#00ff00"/>
<rect x="642.9" y="752.4" width="20" height="4" fill="#00ff00"/>
<rect x="652.6" y="757.7" width="20" height="4" fill="#00ff00"/>
<rect x="652.6" y="762" width="20" height="4" fill="#00ff00"/>
<rect x="667.4" y="774.3" width="20" height="4" fill="#00ff00"/>
<rect x="667.4" y="780.1" width="20" height="4" fill="#00ff00"/>
<rect x="676.9" y="783" width="20" height="4" fill="#00ff00"/>
<rect x="676.9" y="786.6" width="20" height="4" fill="#00ff00"/>
<rect x="692.4" y="784.4" width="20" height="4" fill="#00ff00"/>
<rect x="692.4" y="788.5" width="20" height="4" fill="#00ff00"/>
<rect x="705.8" y="786.8" width="20" height="4" fill="#00ff00"/>
<rect x="705.8" y="791.5" width="20" height="4" fill="#00ff00"/>
<rect x="718.8" y="784.5" width="20" height="4" fill="#00ff00"/>
<rect x="718.8" y="788.3" width="20" height="4" fill="#00ff00"/>
<rect x="732.8" y="780.3" width="20" height="4" fill="#00ff00"/>
<rect x="732.8" y="784.3" width="20" height="4" fill="#00ff00"/>
<rect x="747.6" y="770.5" width="20" height="4" fill="#00ff00"/>
<rect x="747.6" y="776.5" width="20" height="4" fill="#00ff00"/>
<rect x="759.2" y="763.6" width="20" height="4" fill="#00ff00"/>
<rect x="759.2" y="768.1" width="20" height="4" fill="#00ff00"/>
<rect x="773.4" y="747.8" width="20" height="4" fill="#00ff00"/>
<rect x="773.4" y="751.8" width="20" height="4" fill="#00ff00"/>
<rect x="786.4" y="722.7" width="20" height="4" fill="#00ff00"/>
<rect x="786.4" y="728.6" width="20" height="4" fill="#00ff00"/>
<rect x="799.4" y="701.5" width="20" height="4" fill="#00ff00"/>
<rect x="799.4" y="706.6" width="20" height="4" fill="#00ff00"/>
<rect x="812" y="675.4" width="20" height="4" fill="#00ff00"/>
<rect x="812" y="680.7" width="20" height="4" fill="#00ff00"/>
<rect x="825.8" y="648.3" width="20" height="4" fill="#00ff00"/>
<rect x="825.8" y="654.3" width="20" height="4" fill="#00ff00"/>
<rect x="840.9" y="608" width="20" height="4" fill="#00ff00"/>
<rect x="840.9" y="613.6" width="20" height="4" fill="#00ff00"/>
<rect x="851.5" y="569.4" width="20" height="4" fill="#00ff00"/>
<rect x="851.5" y="573.6" width="20" height="4" fill="#00ff00"/>
<rect x="865.9" y="523.3" width="20" height="4" fill="#00ff00"/>
<rect x="865.9" y="526.7" width="20" height="4" fill="#00ff00"/>
<rect x="876.1" y="478.4" width="20" height="4" fill="#00ff00"/>
<rect x="876.1" y="483.5" width="20" height="4" fill="#00ff00"/>
<rect x="886.2" y="432" width="20" height="4" fill="#00ff00"/>
<rect x="886.2" y="437.6" width="20" height="4" fill="#00ff00"/>
<rect x="901.1" y="378.2" width="20" height="4" fill="#00ff00"/>
<rect x="901.1" y="384.1" width="20" height="4" fill="#00ff00"/>
<rect x="910.8" y="330" width="20" height="4" fill="#00ff00"/>
<rect x="910.8" y="334" width="20" height="4" fill="#00ff00"/>
<rect x="920.7" y="284.1" width="20" height="4" fill="#00ff00"/>
<rect x="920.7" y="289.4" width="20" height="4" fill="#00ff00"/>
<rect x="931.8" y="234.2" width="20" height="4" fill="#00ff00"/>
<rect x="931.8" y="240.5" width="20" height="4" fill="#00ff00"/>
<rect x="947.7" y="184.7" width="20" height="4" fill="#00ff00"/>
<rect x="947.7" y="188.9" width="20" height="4" fill="#00ff00"/>
<rect x="962.9" y="126" width="20" height="4" fill="#00ff00"/>
<rect x="962.9" y="130.3" width="20" height="4" fill="#00ff00"/>
<rect x="972" y="69.8" width="20" height="4" fill="#00ff00"/>
<rect x="972" y="74.4" width="20" height="4" fill="#00ff00"/>
<g clip-path="url(#ca)">
<polyline points="140.2,1124.6 153.4,1126 165.3,1125.6 178.1,1127.1 189.8,1126.4 202.5,1125.3 215.3,1126.3 228.1,1126.2 239.7,1124.2 252.8,1123.3 264.9,1119 277.5,1117.7 291.1,1112.2 303.8,1107.5 323.9,1102.8 339.2,1101.6 355,1099.9 364.2,1096.9 375.1,1094.1 389,1087.8 404,1080.1 413.6,1079.8 423.9,1078.2 436.5,1074.4 447.7,1066.5 459.2,1052.7 471.1,1043.7 484.8,1031.8 497.7,1021.3 511.3,993.9 522.9,967.7 534.5,932.1 545.5,889.2 561.3,849.9 573.1,804.4 587.3,772.9 597.2,760.5 608.1,757.2 622.4,757.1 638.1,761.3 652.7,772.3 663,781.6 677.4,797.4 687.1,803.1 702.5,809.4 715.4,809.2 728.5,805.2 742.8,801.1 757.3,799.1 769.2,790.3 783.4,766.7 797,737.7 809.4,719.6 820.9,697.1 836,668.1 850.7,632.1 861.8,593.6 876,545.6 885.9,490.7 896.1,447.8 910.9,395.1 920.2,349.5 930.1,302.4 941.5,250.5 957.5,200.2 972.5,142.7 982,85.1" fill="none" stroke="#fcb83c" stroke-width="2.6" stroke-linejoin="round" />
</g>
<rect x="130.2" y="1117.6" width="20" height="4" fill="#fcb83c"/>
<rect x="130.2" y="1127.7" width="20" height="4" fill="#fcb83c"/>
<rect x="143.4" y="1118.2" width="20" height="4" fill="#fcb83c"/>
<rect x="143.4" y="1129.7" width="20" height="4" fill="#fcb83c"/>
<rect x="155.3" y="1118.5" width="20" height="4" fill="#fcb83c"/>
<rect x="155.3" y="1128.6" width="20" height="4" fill="#fcb83c"/>
<rect x="168.1" y="1119.5" width="20" height="4" fill="#fcb83c"/>
<rect x="168.1" y="1130.7" width="20" height="4" fill="#fcb83c"/>
<rect x="179.8" y="1119.2" width="20" height="4" fill="#fcb83c"/>
<rect x="179.8" y="1129.6" width="20" height="4" fill="#fcb83c"/>
<rect x="192.5" y="1118.5" width="20" height="4" fill="#fcb83c"/>
<rect x="192.5" y="1128.2" width="20" height="4" fill="#fcb83c"/>
<rect x="205.3" y="1119.8" width="20" height="4" fill="#fcb83c"/>
<rect x="205.3" y="1128.9" width="20" height="4" fill="#fcb83c"/>
<rect x="218.1" y="1119.5" width="20" height="4" fill="#fcb83c"/>
<rect x="218.1" y="1128.8" width="20" height="4" fill="#fcb83c"/>
<rect x="229.7" y="1116.8" width="20" height="4" fill="#fcb83c"/>
<rect x="229.7" y="1127.6" width="20" height="4" fill="#fcb83c"/>
<rect x="242.8" y="1117" width="20" height="4" fill="#fcb83c"/>
<rect x="242.8" y="1125.6" width="20" height="4" fill="#fcb83c"/>
<rect x="254.9" y="1112.7" width="20" height="4" fill="#fcb83c"/>
<rect x="254.9" y="1121.2" width="20" height="4" fill="#fcb83c"/>
<rect x="267.5" y="1111.3" width="20" height="4" fill="#fcb83c"/>
<rect x="267.5" y="1120.1" width="20" height="4" fill="#fcb83c"/>
<rect x="281.1" y="1105" width="20" height="4" fill="#fcb83c"/>
<rect x="281.1" y="1115.4" width="20" height="4" fill="#fcb83c"/>
<rect x="293.8" y="1103" width="20" height="4" fill="#fcb83c"/>
<rect x="293.8" y="1107.9" width="20" height="4" fill="#fcb83c"/>
<rect x="313.9" y="1098.6" width="20" height="4" fill="#fcb83c"/>
<rect x="313.9" y="1103" width="20" height="4" fill="#fcb83c"/>
<rect x="329.2" y="1097.2" width="20" height="4" fill="#fcb83c"/>
<rect x="329.2" y="1102" width="20" height="4" fill="#fcb83c"/>
<rect x="345" y="1095.9" width="20" height="4" fill="#fcb83c"/>
<rect x="345" y="1099.8" width="20" height="4" fill="#fcb83c"/>
<rect x="354.2" y="1092.3" width="20" height="4" fill="#fcb83c"/>
<rect x="354.2" y="1097.4" width="20" height="4" fill="#fcb83c"/>
<rect x="365.1" y="1088.9" width="20" height="4" fill="#fcb83c"/>
<rect x="365.1" y="1095.4" width="20" height="4" fill="#fcb83c"/>
<rect x="379" y="1083.2" width="20" height="4" fill="#fcb83c"/>
<rect x="379" y="1088.4" width="20" height="4" fill="#fcb83c"/>
<rect x="394" y="1075.5" width="20" height="4" fill="#fcb83c"/>
<rect x="394" y="1080.7" width="20" height="4" fill="#fcb83c"/>
<rect x="403.6" y="1075.9" width="20" height="4" fill="#fcb83c"/>
<rect x="403.6" y="1079.6" width="20" height="4" fill="#fcb83c"/>
<rect x="413.9" y="1073.9" width="20" height="4" fill="#fcb83c"/>
<rect x="413.9" y="1078.5" width="20" height="4" fill="#fcb83c"/>
<rect x="426.5" y="1070.5" width="20" height="4" fill="#fcb83c"/>
<rect x="426.5" y="1074.4" width="20" height="4" fill="#fcb83c"/>
<rect x="437.7" y="1062.6" width="20" height="4" fill="#fcb83c"/>
<rect x="437.7" y="1066.3" width="20" height="4" fill="#fcb83c"/>
<rect x="449.2" y="1047.3" width="20" height="4" fill="#fcb83c"/>
<rect x="449.2" y="1054.1" width="20" height="4" fill="#fcb83c"/>
<rect x="461.1" y="1038.7" width="20" height="4" fill="#fcb83c"/>
<rect x="461.1" y="1044.8" width="20" height="4" fill="#fcb83c"/>
<rect x="474.8" y="1026.5" width="20" height="4" fill="#fcb83c"/>
<rect x="474.8" y="1033" width="20" height="4" fill="#fcb83c"/>
<rect x="487.7" y="1017.2" width="20" height="4" fill="#fcb83c"/>
<rect x="487.7" y="1021.3" width="20" height="4" fill="#fcb83c"/>
<rect x="501.3" y="989.4" width="20" height="4" fill="#fcb83c"/>
<rect x="501.3" y="994.3" width="20" height="4" fill="#fcb83c"/>
<rect x="512.9" y="962.2" width="20" height="4" fill="#fcb83c"/>
<rect x="512.9" y="969.1" width="20" height="4" fill="#fcb83c"/>
<rect x="524.5" y="927.6" width="20" height="4" fill="#fcb83c"/>
<rect x="524.5" y="932.7" width="20" height="4" fill="#fcb83c"/>
<rect x="535.5" y="883.7" width="20" height="4" fill="#fcb83c"/>
<rect x="535.5" y="890.7" width="20" height="4" fill="#fcb83c"/>
<rect x="551.3" y="844.3" width="20" height="4" fill="#fcb83c"/>
<rect x="551.3" y="851.4" width="20" height="4" fill="#fcb83c"/>
<rect x="563.1" y="800.6" width="20" height="4" fill="#fcb83c"/>
<rect x="563.1" y="804.2" width="20" height="4" fill="#fcb83c"/>
<rect x="577.3" y="768.4" width="20" height="4" fill="#fcb83c"/>
<rect x="577.3" y="773.5" width="20" height="4" fill="#fcb83c"/>
<rect x="587.2" y="755.6" width="20" height="4" fill="#fcb83c"/>
<rect x="587.2" y="761.3" width="20" height="4" fill="#fcb83c"/>
<rect x="598.1" y="752.8" width="20" height="4" fill="#fcb83c"/>
<rect x="598.1" y="757.6" width="20" height="4" fill="#fcb83c"/>
<rect x="612.4" y="752.7" width="20" height="4" fill="#fcb83c"/>
<rect x="612.4" y="757.6" width="20" height="4" fill="#fcb83c"/>
<rect x="628.1" y="756.9" width="20" height="4" fill="#fcb83c"/>
<rect x="628.1" y="761.8" width="20" height="4" fill="#fcb83c"/>
<rect x="642.7" y="767.3" width="20" height="4" fill="#fcb83c"/>
<rect x="642.7" y="773.3" width="20" height="4" fill="#fcb83c"/>
<rect x="653" y="777" width="20" height="4" fill="#fcb83c"/>
<rect x="653" y="782.3" width="20" height="4" fill="#fcb83c"/>
<rect x="667.4" y="791.5" width="20" height="4" fill="#fcb83c"/>
<rect x="667.4" y="799.4" width="20" height="4" fill="#fcb83c"/>
<rect x="677.1" y="796.7" width="20" height="4" fill="#fcb83c"/>
<rect x="677.1" y="805.5" width="20" height="4" fill="#fcb83c"/>
<rect x="692.5" y="804.8" width="20" height="4" fill="#fcb83c"/>
<rect x="692.5" y="810.1" width="20" height="4" fill="#fcb83c"/>
<rect x="705.4" y="803" width="20" height="4" fill="#fcb83c"/>
<rect x="705.4" y="811.3" width="20" height="4" fill="#fcb83c"/>
<rect x="718.5" y="799.6" width="20" height="4" fill="#fcb83c"/>
<rect x="718.5" y="806.8" width="20" height="4" fill="#fcb83c"/>
<rect x="732.8" y="796.4" width="20" height="4" fill="#fcb83c"/>
<rect x="732.8" y="801.7" width="20" height="4" fill="#fcb83c"/>
<rect x="747.3" y="794.4" width="20" height="4" fill="#fcb83c"/>
<rect x="747.3" y="799.8" width="20" height="4" fill="#fcb83c"/>
<rect x="759.2" y="784.8" width="20" height="4" fill="#fcb83c"/>
<rect x="759.2" y="791.9" width="20" height="4" fill="#fcb83c"/>
<rect x="773.4" y="761.9" width="20" height="4" fill="#fcb83c"/>
<rect x="773.4" y="767.4" width="20" height="4" fill="#fcb83c"/>
<rect x="787" y="732.5" width="20" height="4" fill="#fcb83c"/>
<rect x="787" y="738.8" width="20" height="4" fill="#fcb83c"/>
<rect x="799.4" y="715.3" width="20" height="4" fill="#fcb83c"/>
<rect x="799.4" y="719.9" width="20" height="4" fill="#fcb83c"/>
<rect x="810.9" y="691.6" width="20" height="4" fill="#fcb83c"/>
<rect x="810.9" y="698.7" width="20" height="4" fill="#fcb83c"/>
<rect x="826" y="663.4" width="20" height="4" fill="#fcb83c"/>
<rect x="826" y="668.7" width="20" height="4" fill="#fcb83c"/>
<rect x="840.7" y="627.8" width="20" height="4" fill="#fcb83c"/>
<rect x="840.7" y="632.4" width="20" height="4" fill="#fcb83c"/>
<rect x="851.8" y="588.2" width="20" height="4" fill="#fcb83c"/>
<rect x="851.8" y="595.1" width="20" height="4" fill="#fcb83c"/>
<rect x="866" y="540.1" width="20" height="4" fill="#fcb83c"/>
<rect x="866" y="547.1" width="20" height="4" fill="#fcb83c"/>
<rect x="875.9" y="485.6" width="20" height="4" fill="#fcb83c"/>
<rect x="875.9" y="491.8" width="20" height="4" fill="#fcb83c"/>
<rect x="886.1" y="443.7" width="20" height="4" fill="#fcb83c"/>
<rect x="886.1" y="447.8" width="20" height="4" fill="#fcb83c"/>
<rect x="900.9" y="389.7" width="20" height="4" fill="#fcb83c"/>
<rect x="900.9" y="396.5" width="20" height="4" fill="#fcb83c"/>
<rect x="910.2" y="344.9" width="20" height="4" fill="#fcb83c"/>
<rect x="910.2" y="350.1" width="20" height="4" fill="#fcb83c"/>
<rect x="920.1" y="297.2" width="20" height="4" fill="#fcb83c"/>
<rect x="920.1" y="303.6" width="20" height="4" fill="#fcb83c"/>
<rect x="931.5" y="245.4" width="20" height="4" fill="#fcb83c"/>
<rect x="931.5" y="251.6" width="20" height="4" fill="#fcb83c"/>
<rect x="947.5" y="195.2" width="20" height="4" fill="#fcb83c"/>
<rect x="947.5" y="201.1" width="20" height="4" fill="#fcb83c"/>
<rect x="962.5" y="137.5" width="20" height="4" fill="#fcb83c"/>
<rect x="962.5" y="143.9" width="20" height="4" fill="#fcb83c"/>
<rect x="972" y="79.9" width="20" height="4" fill="#fcb83c"/>
<rect x="972" y="86.4" width="20" height="4" fill="#fcb83c"/>
<text x="0" y="0" font-size="31.3" text-anchor="end" font-weight="normal" transform="translate(119.5,1137.3) scale(0.9750,1)">0.0</text>
<text x="0" y="0" font-size="31.3" text-anchor="end" font-weight="normal" transform="translate(119.5,516.9) scale(0.9750,1)">0.1</text>
<text x="0" y="0" font-size="31.3" text-anchor="middle" font-weight="normal" transform="translate(385.8,1177.4) scale(0.9750,1)">8.330</text>
<text x="0" y="0" font-size="31.3" text-anchor="middle" font-weight="normal" transform="translate(883.1,1177.4) scale(0.9750,1)">8.340</text>
<text x="0" y="0" font-size="45" text-anchor="middle" transform="translate(561,1237.1) scale(0.969,1)">Energy (keV)</text>
<text x="0" y="0" font-size="44.5" text-anchor="middle" transform="translate(33.5,590.2) rotate(-90) scale(0.967,1)">XAS</text>
<text x="12.3" y="24.4" font-size="33" text-anchor="start" font-weight="bold"  style="">a</text>
<text x="0" y="0" font-size="30.5" transform="translate(193.2,606.6) scale(1.082,1)">NdNiO<tspan font-size="20" dy="7.5">3</tspan><tspan dy="-7.5">/LaAlO</tspan><tspan font-size="20" dy="7.5">3</tspan><tspan dy="-7.5">(001)</tspan></text>
<text x="0" y="0" font-size="30.5" transform="translate(193.2,724.7) scale(1.082,1)">NdNiO<tspan font-size="20" dy="7.5">3</tspan><tspan dy="-7.5">/LaAlO</tspan><tspan font-size="20" dy="7.5">3</tspan><tspan dy="-7.5">(111)</tspan></text>
<rect x="195.7" y="632.4" width="58.3" height="6.2" fill="#ff0000"/>
<text x="0" y="0" font-size="30.5" transform="translate(267.6,645.4) scale(1.083,1)"><tspan font-style="italic">E</tspan>//[100]</text>
<rect x="195.7" y="673.3" width="58.3" height="6.2" fill="#0000ff"/>
<text x="0" y="0" font-size="30.5" transform="translate(267.6,685) scale(1.083,1)"><tspan font-style="italic">E</tspan>//[001]</text>
<rect x="195.7" y="750.9" width="58.3" height="6.2" fill="#000000"/>
<text x="0" y="0" font-size="30.5" transform="translate(267.6,763.9) scale(1.083,1)"><tspan font-style="italic">E</tspan>//[111]</text>
<rect x="195.7" y="791.1" width="58.3" height="6.2" fill="#00ff00"/>
<text x="0" y="0" font-size="30.5" transform="translate(267.6,803.5) scale(1.083,1)"><tspan font-style="italic">E</tspan>//[11-2]</text>
<rect x="195.7" y="829.6" width="58.3" height="6.2" fill="#f59646"/>
<text x="0" y="0" font-size="30.5" transform="translate(267.6,842.4) scale(1.083,1)"><tspan font-style="italic">E</tspan>//[1-10]</text>
<clipPath id="ci"><rect x="193.2" y="94.5" width="523.8" height="330.8"/></clipPath>
<rect x="193.2" y="94.5" width="523.8" height="330.8" fill="#ffffff"/>
<rect x="191.4" y="92.7" width="527.4" height="3.6" fill="#000000"/>
<rect x="191.4" y="423.5" width="527.4" height="3.6" fill="#000000"/>
<rect x="191.4" y="92.7" width="3.6" height="334.4" fill="#000000"/>
<rect x="715.2" y="92.7" width="3.6" height="334.4" fill="#000000"/>
<rect x="194.4" y="94.5" width="4.2" height="21" fill="#000000"/>
<rect x="194.4" y="404.3" width="4.2" height="21" fill="#000000"/>
<rect x="258.9" y="94.5" width="4.2" height="11" fill="#000000"/>
<rect x="258.9" y="414.3" width="4.2" height="11" fill="#000000"/>
<rect x="323.5" y="94.5" width="4.2" height="21" fill="#000000"/>
<rect x="323.5" y="404.3" width="4.2" height="21" fill="#000000"/>
<rect x="388" y="94.5" width="4.2" height="11" fill="#000000"/>
<rect x="388" y="414.3" width="4.2" height="11" fill="#000000"/>
<rect x="452.6" y="94.5" width="4.2" height="21" fill="#000000"/>
<rect x="452.6" y="404.3" width="4.2" height="21" fill="#000000"/>
<rect x="517.1" y="94.5" width="4.2" height="11" fill="#000000"/>
<rect x="517.1" y="414.3" width="4.2" height="11" fill="#000000"/>
<rect x="581.7" y="94.5" width="4.2" height="21" fill="#000000"/>
<rect x="581.7" y="404.3" width="4.2" height="21" fill="#000000"/>
<rect x="646.2" y="94.5" width="4.2" height="11" fill="#000000"/>
<rect x="646.2" y="414.3" width="4.2" height="11" fill="#000000"/>
<rect x="710.8" y="94.5" width="4.2" height="21" fill="#000000"/>
<rect x="710.8" y="404.3" width="4.2" height="21" fill="#000000"/>
<rect x="193.2" y="414.7" width="21" height="4.2" fill="#000000"/>
<rect x="696" y="414.7" width="21" height="4.2" fill="#000000"/>
<rect x="193.2" y="315.5" width="11" height="4.2" fill="#000000"/>
<rect x="706" y="315.5" width="11" height="4.2" fill="#000000"/>
<rect x="193.2" y="216.4" width="21" height="4.2" fill="#000000"/>
<rect x="696" y="216.4" width="21" height="4.2" fill="#000000"/>
<rect x="193.2" y="117.2" width="11" height="4.2" fill="#000000"/>
<rect x="706" y="117.2" width="11" height="4.2" fill="#000000"/>
<g clip-path="url(#ci)">
<polyline points="199.4,417.5 200.9,417.5 202.4,417.5 203.9,417.5 205.4,417.4 206.9,417.4 208.4,417.4 209.9,417.4 211.4,417.4 212.9,417.3 214.4,417.3 215.9,417.3 217.4,417.3 218.9,417.2 220.4,417.2 221.9,417.2 223.4,417.2 224.9,417.1 226.4,417.1 227.9,417.1 229.4,417 230.9,417 232.4,417 233.9,417 235.4,416.9 236.9,416.9 238.4,416.9 239.9,416.8 241.4,416.8 242.9,416.8 244.4,416.7 245.9,416.7 247.4,416.7 248.9,416.6 250.4,416.6 251.9,416.6 253.4,416.5 254.9,416.5 256.4,416.4 257.9,416.3 259.4,416.3 260.9,416.2 262.4,416.1 263.9,416.1 265.4,416 266.9,415.8 268.4,415.7 269.9,415.4 271.4,415.2 272.9,414.9 274.4,414.6 275.9,414.2 277.4,413.8 278.9,413.4 280.4,412.9 281.9,412.3 283.4,411.3 284.9,410.1 286.4,408.7 287.9,407.5 289.4,406.4 290.9,405.8 292.4,405.7 293.9,405.8 295.4,406.1 296.9,406.3 298.4,406.5 299.9,406.6 301.4,406.7 302.9,406.8 304.4,406.8 305.9,406.9 307.4,406.9 308.9,407 310.4,407 311.9,407 313.4,406.9 314.9,406.4 316.4,405.6 317.9,404.6 319.4,403.4 320.9,402.1 322.4,400.9 323.9,399.7 325.4,398.4 326.9,396.9 328.4,395.4 329.9,393.8 331.4,392.1 332.9,390.5 334.4,388.8 335.9,387.1 337.4,385.4 338.9,383.7 340.4,381.9 341.9,380 343.4,378.1 344.9,375.9 346.4,373.7 347.9,371.3 349.4,368.6 350.9,365.8 352.4,362.8 353.9,359.5 355.4,355.9 356.9,352.1 358.4,347.8 359.9,343 361.4,337.6 362.9,331.6 364.4,324.4 365.9,315.7 367.4,306 368.9,295.9 370.4,285.7 371.9,274.7 373.4,262.7 374.9,249.2 376.4,233.7 377.9,218 379.4,203.9 380.9,190.6 382.4,178 383.9,166.3 385.4,155 386.9,144.5 388.4,135.7 389.9,128 391.4,121.2 392.9,116.9 394.4,115.3 395.9,114.3 397.4,114.3 398.9,116 400.4,118.8 401.9,121.9 403.4,126 404.9,130.9 406.4,135.7 407.9,140.4 409.4,145.2 410.9,149.9 412.4,154.3 413.9,158.1 415.4,161.7 416.9,165.1 418.4,168.2 419.9,171 421.4,173.3 422.9,175 424.4,176.5 425.9,177.9 427.4,179.1 428.9,180.1 430.4,181.1 431.9,181.9 433.4,182.8 434.9,183.5 436.4,184.1 437.9,184.8 439.4,185.3 440.9,185.8 442.4,186.3 443.9,186.8 445.4,187.3 446.9,187.9 448.4,188.4 449.9,189 451.4,189.5 452.9,190.1 454.4,190.7 455.9,191.2 457.4,191.8 458.9,192.3 460.4,192.8 461.9,193.2 463.4,193.7 464.9,194 466.4,194.4 467.9,194.7 469.4,194.9 470.9,195.2 472.4,195.4 473.9,195.7 475.4,195.9 476.9,196.1 478.4,196.3 479.9,196.5 481.4,196.6 482.9,196.8 484.4,196.9 485.9,197.1 487.4,197.1 488.9,197.2 490.4,197.3 491.9,197.4 493.4,197.5 494.9,197.7 496.4,197.8 497.9,198 499.4,198.3 500.9,198.6 502.4,198.9 503.9,199.4 505.4,199.9 506.9,200.5 508.4,201.4 509.9,202.8 511.4,204.4 512.9,206.2 514.4,207.9 515.9,209.5 517.4,211 518.9,212.6 520.4,214.2 521.9,215.9 523.4,217.5 524.9,219.2 526.4,220.9 527.9,222.6 529.4,224.3 530.9,226 532.4,227.8 533.9,229.5 535.4,231.3 536.9,233 538.4,234.7 539.9,236.4 541.4,238 542.9,239.6 544.4,241 545.9,242.4 547.4,243.8 548.9,245.2 550.4,246.5 551.9,247.8 553.4,249 554.9,250.2 556.4,251.3 557.9,252.3 559.4,253.3 560.9,254.2 562.4,255.1 563.9,255.9 565.4,256.7 566.9,257.5 568.4,258.3 569.9,259 571.4,259.6 572.9,260.2 574.4,260.8 575.9,261.2 577.4,261.6 578.9,262 580.4,262.3 581.9,262.7 583.4,263 584.9,263.3 586.4,263.5 587.9,263.8 589.4,264 590.9,264.1 592.4,264.2 593.9,264.3 595.4,264.3 596.9,264.2 598.4,264.2 599.9,264.1 601.4,263.9 602.9,263.8 604.4,263.6 605.9,263.4 607.4,263.2 608.9,263 610.4,262.7 611.9,262.5 613.4,262.2 614.9,261.8 616.4,261.4 617.9,260.9 619.4,260.3 620.9,259.8 622.4,259.2 623.9,258.5 625.4,257.9 626.9,257.2 628.4,256.6 629.9,255.9 631.4,255.1 632.9,254.2 634.4,253.4 635.9,252.5 637.4,251.5 638.9,250.5 640.4,249.6 641.9,248.6 643.4,247.6 644.9,246.6 646.4,245.6 647.9,244.6 649.4,243.5 650.9,242.5 652.4,241.4 653.9,240.3 655.4,239.2 656.9,238.1 658.4,237.1 659.9,236.1 661.4,235.1 662.9,234.1 664.4,233.1 665.9,232.1 667.4,231.1 668.9,230.2 670.4,229.2 671.9,228.3 673.4,227.4 674.9,226.5 676.4,225.7 677.9,225 679.4,224.3 680.9,223.7 682.4,223.1 683.9,222.5 685.4,221.9 686.9,221.4 688.4,220.9 689.9,220.4 691.4,219.9 692.9,219.5 694.4,219.1 695.9,218.7 697.4,218.3 698.9,217.9 700.4,217.5 701.9,217.2 703.4,216.8 704.9,216.5 706.4,216.2 707.9,215.9 709.4,215.6 710.9,215.3 712.4,215.1 713.9,214.8 715.4,214.6" fill="none" stroke="#ff0000" stroke-width="2.6" stroke-linejoin="round" />
<polyline points="197.3,417.5 198.8,417.5 200.3,417.5 201.8,417.5 203.3,417.4 204.8,417.4 206.3,417.4 207.8,417.4 209.3,417.4 210.8,417.3 212.3,417.3 213.8,417.3 215.3,417.3 216.8,417.2 218.3,417.2 219.8,417.2 221.3,417.2 222.8,417.1 224.3,417.1 225.8,417.1 227.3,417 228.8,417 230.3,417 231.8,417 233.3,416.9 234.8,416.9 236.3,416.9 237.8,416.8 239.3,416.8 240.8,416.8 242.3,416.7 243.8,416.7 245.3,416.7 246.8,416.6 248.3,416.6 249.8,416.6 251.3,416.5 252.8,416.5 254.3,416.4 255.8,416.3 257.3,416.3 258.8,416.2 260.3,416.1 261.8,416.1 263.3,416 264.8,415.8 266.3,415.7 267.8,415.4 269.3,415.2 270.8,414.9 272.3,414.6 273.8,414.2 275.3,413.8 276.8,413.4 278.3,412.9 279.8,412.3 281.3,411.3 282.8,410.1 284.3,408.7 285.8,407.5 287.3,406.4 288.8,405.8 290.3,405.7 291.8,405.8 293.3,406.1 294.8,406.3 296.3,406.5 297.8,406.6 299.3,406.7 300.8,406.8 302.3,406.8 303.8,406.9 305.3,406.9 306.8,407 308.3,407 309.8,407 311.3,406.9 312.8,406.4 314.3,405.6 315.8,404.6 317.3,403.4 318.8,402.1 320.3,400.9 321.8,399.7 323.3,398.4 324.8,396.9 326.3,395.4 327.8,393.8 329.3,392.1 330.8,390.5 332.3,388.8 333.8,387.1 335.3,385.4 336.8,383.7 338.3,381.9 339.8,380 341.3,378.1 342.8,375.9 344.3,373.7 345.8,371.3 347.3,368.6 348.8,365.8 350.3,362.8 351.8,359.5 353.3,355.9 354.8,352.1 356.3,347.8 357.8,343 359.3,337.6 360.8,331.6 362.3,324.4 363.8,315.7 365.3,306 366.8,296 368.3,285.7 369.8,274.7 371.3,262.8 372.8,249.3 374.3,233.8 375.8,218.1 377.3,204 378.8,190.7 380.3,178.2 381.8,166.6 383.3,155.2 384.8,144.8 386.3,136.1 387.8,128.5 389.3,121.8 390.8,117.6 392.3,116.1 393.8,115.2 395.3,115.3 396.8,117.2 398.3,120.2 399.8,123.5 401.3,127.7 402.8,132.8 404.3,137.8 405.8,142.7 407.3,147.7 408.8,152.7 410.3,157.3 411.8,161.3 413.3,165.1 414.8,168.7 416.3,172 417.8,174.9 419.3,177.4 420.8,179.2 422.3,180.8 423.8,182.2 425.3,183.5 426.8,184.6 428.3,185.5 429.8,186.4 431.3,187.2 432.8,187.8 434.3,188.4 435.8,189 437.3,189.4 438.8,189.9 440.3,190.3 441.8,190.7 443.3,191.1 444.8,191.6 446.3,192.1 447.8,192.6 449.3,193.1 450.8,193.7 452.3,194.2 453.8,194.8 455.3,195.4 456.8,195.9 458.3,196.5 459.8,197.1 461.3,197.6 462.8,198 464.3,198.5 465.8,198.9 467.3,199.3 468.8,199.7 470.3,200.1 471.8,200.4 473.3,200.8 474.8,201.1 476.3,201.4 477.8,201.7 479.3,201.9 480.8,202.1 482.3,202.4 483.8,202.5 485.3,202.7 486.8,202.8 488.3,202.9 489.8,203 491.3,203.1 492.8,203.3 494.3,203.4 495.8,203.6 497.3,203.8 498.8,204.1 500.3,204.4 501.8,204.8 503.3,205.3 504.8,205.9 506.3,206.8 507.8,208.1 509.3,209.7 510.8,211.3 512.3,213 513.8,214.5 515.3,215.9 516.8,217.4 518.3,218.8 519.8,220.3 521.3,221.7 522.8,223.2 524.3,224.7 525.8,226.1 527.3,227.6 528.8,229.1 530.3,230.6 531.8,232.1 533.3,233.6 534.8,235.1 536.3,236.6 537.8,238.1 539.3,239.5 540.8,240.8 542.3,242.1 543.8,243.4 545.3,244.6 546.8,245.9 548.3,247.1 549.8,248.3 551.3,249.4 552.8,250.5 554.3,251.6 555.8,252.6 557.3,253.5 558.8,254.4 560.3,255.2 561.8,256 563.3,256.8 564.8,257.6 566.3,258.3 567.8,259 569.3,259.7 570.8,260.3 572.3,260.8 573.8,261.3 575.3,261.7 576.8,262 578.3,262.3 579.8,262.7 581.3,263 582.8,263.3 584.3,263.6 585.8,263.8 587.3,264 588.8,264.1 590.3,264.2 591.8,264.3 593.3,264.3 594.8,264.2 596.3,264.2 597.8,264.1 599.3,263.9 600.8,263.8 602.3,263.6 603.8,263.4 605.3,263.2 606.8,263 608.3,262.7 609.8,262.5 611.3,262.2 612.8,261.8 614.3,261.4 615.8,260.9 617.3,260.3 618.8,259.8 620.3,259.2 621.8,258.5 623.3,257.9 624.8,257.2 626.3,256.6 627.8,255.9 629.3,255.1 630.8,254.2 632.3,253.4 633.8,252.5 635.3,251.5 636.8,250.5 638.3,249.6 639.8,248.6 641.3,247.6 642.8,246.6 644.3,245.6 645.8,244.6 647.3,243.5 648.8,242.5 650.3,241.4 651.8,240.3 653.3,239.2 654.8,238.1 656.3,237.1 657.8,236.1 659.3,235.1 660.8,234.1 662.3,233.1 663.8,232.1 665.3,231.1 666.8,230.2 668.3,229.2 669.8,228.3 671.3,227.4 672.8,226.5 674.3,225.7 675.8,225 677.3,224.3 678.8,223.7 680.3,223.1 681.8,222.5 683.3,221.9 684.8,221.4 686.3,220.9 687.8,220.4 689.3,219.9 690.8,219.5 692.3,219.1 693.8,218.7 695.3,218.3 696.8,217.9 698.3,217.5 699.8,217.2 701.3,216.8 702.8,216.5 704.3,216.2 705.8,215.9 707.3,215.6 708.8,215.3 710.3,215.1 711.8,214.8 713.3,214.6" fill="none" stroke="#0000ff" stroke-width="2.6" stroke-linejoin="round" />
<polyline points="198.6,417.5 200.1,417.5 201.6,417.5 203.1,417.5 204.6,417.4 206.1,417.4 207.6,417.4 209.1,417.4 210.6,417.4 212.1,417.3 213.6,417.3 215.1,417.3 216.6,417.3 218.1,417.2 219.6,417.2 221.1,417.2 222.6,417.2 224.1,417.1 225.6,417.1 227.1,417.1 228.6,417 230.1,417 231.6,417 233.1,417 234.6,416.9 236.1,416.9 237.6,416.9 239.1,416.8 240.6,416.8 242.1,416.8 243.6,416.7 245.1,416.7 246.6,416.7 248.1,416.6 249.6,416.6 251.1,416.6 252.6,416.5 254.1,416.5 255.6,416.4 257.1,416.3 258.6,416.3 260.1,416.2 261.6,416.1 263.1,416.1 264.6,416 266.1,415.8 267.6,415.7 269.1,415.4 270.6,415.2 272.1,414.9 273.6,414.6 275.1,414.2 276.6,413.8 278.1,413.4 279.6,412.9 281.1,412.3 282.6,411.3 284.1,410.1 285.6,408.7 287.1,407.5 288.6,406.4 290.1,405.8 291.6,405.7 293.1,405.8 294.6,406.1 296.1,406.3 297.6,406.5 299.1,406.6 300.6,406.7 302.1,406.8 303.6,406.8 305.1,406.9 306.6,406.9 308.1,407 309.6,407 311.1,407 312.6,406.9 314.1,406.4 315.6,405.6 317.1,404.6 318.6,403.4 320.1,402.1 321.6,400.9 323.1,399.7 324.6,398.4 326.1,396.9 327.6,395.4 329.1,393.8 330.6,392.1 332.1,390.5 333.6,388.8 335.1,387.1 336.6,385.4 338.1,383.7 339.6,381.9 341.1,380 342.6,378.1 344.1,375.9 345.6,373.7 347.1,371.3 348.6,368.6 350.1,365.8 351.6,362.8 353.1,359.5 354.6,355.9 356.1,352.1 357.6,347.8 359.1,343 360.6,337.6 362.1,331.6 363.6,324.4 365.1,315.7 366.6,306 368.1,295.9 369.6,285.7 371.1,274.7 372.6,262.7 374.1,249.2 375.6,233.7 377.1,218 378.6,203.9 380.1,190.6 381.6,178 383.1,166.3 384.6,155 386.1,144.5 387.6,135.7 389.1,128 390.6,121.2 392.1,116.9 393.6,115.3 395.1,114.3 396.6,114.3 398.1,116 399.6,118.8 401.1,121.9 402.6,126 404.1,130.9 405.6,135.7 407.1,140.4 408.6,145.2 410.1,149.9 411.6,154.3 413.1,158.2 414.6,161.7 416.1,165.2 417.6,168.3 419.1,171.1 420.6,173.4 422.1,175.2 423.6,176.7 425.1,178.1 426.6,179.3 428.1,180.4 429.6,181.4 431.1,182.3 432.6,183.2 434.1,184 435.6,184.7 437.1,185.4 438.6,186 440.1,186.7 441.6,187.3 443.1,187.9 444.6,188.5 446.1,189.1 447.6,189.8 449.1,190.5 450.6,191.2 452.1,191.9 453.6,192.6 455.1,193.3 456.6,194.1 458.1,194.8 459.6,195.4 461.1,196.1 462.6,196.7 464.1,197.3 465.6,197.8 467.1,198.3 468.6,198.7 470.1,199.2 471.6,199.6 473.1,200 474.6,200.4 476.1,200.8 477.6,201.1 479.1,201.4 480.6,201.7 482.1,202 483.6,202.3 485.1,202.5 486.6,202.7 488.1,202.8 489.6,203 491.1,203.1 492.6,203.3 494.1,203.4 495.6,203.6 497.1,203.9 498.6,204.1 500.1,204.4 501.6,204.8 503.1,205.2 504.6,205.7 506.1,206.3 507.6,207.2 509.1,208.5 510.6,210.1 512.1,211.8 513.6,213.4 515.1,214.9 516.6,216.3 518.1,217.8 519.6,219.2 521.1,220.7 522.6,222.1 524.1,223.5 525.6,225 527.1,226.4 528.6,227.9 530.1,229.3 531.6,230.8 533.1,232.3 534.6,233.8 536.1,235.3 537.6,236.7 539.1,238.2 540.6,239.5 542.1,240.8 543.6,242.1 545.1,243.3 546.6,244.5 548.1,245.7 549.6,246.9 551.1,248.1 552.6,249.2 554.1,250.2 555.6,251.2 557.1,252.2 558.6,253.1 560.1,253.9 561.6,254.7 563.1,255.4 564.6,256.2 566.1,256.9 567.6,257.6 569.1,258.2 570.6,258.8 572.1,259.4 573.6,259.9 575.1,260.3 576.6,260.6 578.1,260.9 579.6,261.2 581.1,261.5 582.6,261.8 584.1,262 585.6,262.3 587.1,262.5 588.6,262.6 590.1,262.8 591.6,262.8 593.1,262.9 594.6,262.8 596.1,262.8 597.6,262.7 599.1,262.6 600.6,262.4 602.1,262.3 603.6,262.1 605.1,261.9 606.6,261.7 608.1,261.5 609.6,261.3 611.1,261.1 612.6,260.8 614.1,260.5 615.6,260.1 617.1,259.6 618.6,259.1 620.1,258.6 621.6,258 623.1,257.4 624.6,256.8 626.1,256.2 627.6,255.6 629.1,254.9 630.6,254.2 632.1,253.4 633.6,252.6 635.1,251.7 636.6,250.8 638.1,249.9 639.6,249 641.1,248 642.6,247.1 644.1,246.1 645.6,245.2 647.1,244.2 648.6,243.2 650.1,242.1 651.6,241.1 653.1,240 654.6,239 656.1,237.9 657.6,236.9 659.1,235.9 660.6,234.9 662.1,233.9 663.6,233 665.1,232 666.6,231 668.1,230.1 669.6,229.1 671.1,228.2 672.6,227.3 674.1,226.5 675.6,225.7 677.1,225 678.6,224.3 680.1,223.7 681.6,223.1 683.1,222.5 684.6,221.9 686.1,221.4 687.6,220.9 689.1,220.4 690.6,219.9 692.1,219.5 693.6,219.1 695.1,218.7 696.6,218.3 698.1,217.9 699.6,217.5 701.1,217.2 702.6,216.8 704.1,216.5 705.6,216.2 707.1,215.9 708.6,215.6 710.1,215.3 711.6,215.1 713.1,214.8 714.6,214.6" fill="none" stroke="#000000" stroke-width="2.6" stroke-linejoin="round" />
<polyline points="198.2,417.5 199.7,417.5 201.2,417.5 202.7,417.5 204.2,417.4 205.7,417.4 207.2,417.4 208.7,417.4 210.2,417.4 211.7,417.3 213.2,417.3 214.7,417.3 216.2,417.3 217.7,417.2 219.2,417.2 220.7,417.2 222.2,417.2 223.7,417.1 225.2,417.1 226.7,417.1 228.2,417 229.7,417 231.2,417 232.7,417 234.2,416.9 235.7,416.9 237.2,416.9 238.7,416.8 240.2,416.8 241.7,416.8 243.2,416.7 244.7,416.7 246.2,416.7 247.7,416.6 249.2,416.6 250.7,416.6 252.2,416.5 253.7,416.5 255.2,416.4 256.7,416.3 258.2,416.3 259.7,416.2 261.2,416.1 262.7,416.1 264.2,416 265.7,415.8 267.2,415.7 268.7,415.4 270.2,415.2 271.7,414.9 273.2,414.6 274.7,414.2 276.2,413.8 277.7,413.4 279.2,412.9 280.7,412.3 282.2,411.3 283.7,410 285.2,408.5 286.7,407.1 288.2,405.8 289.7,404.8 291.2,404.4 292.7,404.4 294.2,404.6 295.7,405 297.2,405.5 298.7,405.9 300.2,406.2 301.7,406.5 303.2,406.7 304.7,406.8 306.2,406.9 307.7,407 309.2,407 310.7,407 312.2,406.9 313.7,406.4 315.2,405.6 316.7,404.6 318.2,403.4 319.7,402.1 321.2,400.9 322.7,399.7 324.2,398.4 325.7,396.9 327.2,395.4 328.7,393.8 330.2,392.1 331.7,390.5 333.2,388.8 334.7,387.1 336.2,385.4 337.7,383.7 339.2,381.9 340.7,380 342.2,378.1 343.7,375.9 345.2,373.7 346.7,371.3 348.2,368.6 349.7,365.8 351.2,362.8 352.7,359.5 354.2,355.9 355.7,352.1 357.2,347.8 358.7,343 360.2,337.6 361.7,331.6 363.2,324.4 364.7,315.7 366.2,306 367.7,295.9 369.2,285.7 370.7,274.7 372.2,262.7 373.7,249.2 375.2,233.7 376.7,218 378.2,203.9 379.7,190.6 381.2,178 382.7,166.3 384.2,155 385.7,144.5 387.2,135.7 388.7,128 390.2,121.2 391.7,116.9 393.2,115.3 394.7,114.3 396.2,114.3 397.7,116 399.2,118.8 400.7,121.9 402.2,126 403.7,130.9 405.2,135.7 406.7,140.4 408.2,145.2 409.7,149.9 411.2,154.3 412.7,158.1 414.2,161.7 415.7,165.1 417.2,168.3 418.7,171 420.2,173.3 421.7,175.1 423.2,176.6 424.7,178 426.2,179.2 427.7,180.3 429.2,181.2 430.7,182.1 432.2,183 433.7,183.7 435.2,184.4 436.7,185.1 438.2,185.7 439.7,186.3 441.2,186.8 442.7,187.4 444.2,187.9 445.7,188.5 447.2,189.2 448.7,189.8 450.2,190.5 451.7,191.1 453.2,191.8 454.7,192.4 456.2,193.1 457.7,193.7 459.2,194.3 460.7,194.9 462.2,195.5 463.7,196 465.2,196.4 466.7,196.9 468.2,197.3 469.7,197.7 471.2,198 472.7,198.4 474.2,198.7 475.7,199 477.2,199.3 478.7,199.6 480.2,199.9 481.7,200.1 483.2,200.3 484.7,200.5 486.2,200.7 487.7,200.8 489.2,201 490.7,201.1 492.2,201.3 493.7,201.5 495.2,201.7 496.7,201.9 498.2,202.2 499.7,202.5 501.2,202.9 502.7,203.4 504.2,203.9 505.7,204.5 507.2,205.5 508.7,206.9 510.2,208.5 511.7,210.3 513.2,212 514.7,213.5 516.2,215 517.7,216.5 519.2,218 520.7,219.5 522.2,221.1 523.7,222.6 525.2,224.1 526.7,225.6 528.2,227.1 529.7,228.6 531.2,230.2 532.7,231.7 534.2,233.3 535.7,234.8 537.2,236.3 538.7,237.8 540.2,239.3 541.7,240.6 543.2,241.9 544.7,243.2 546.2,244.5 547.7,245.7 549.2,247 550.7,248.2 552.2,249.3 553.7,250.4 555.2,251.5 556.7,252.5 558.2,253.4 559.7,254.3 561.2,255.1 562.7,256 564.2,256.8 565.7,257.5 567.2,258.3 568.7,259 570.2,259.6 571.7,260.2 573.2,260.8 574.7,261.3 576.2,261.7 577.7,262 579.2,262.3 580.7,262.7 582.2,263 583.7,263.3 585.2,263.6 586.7,263.8 588.2,264 589.7,264.1 591.2,264.2 592.7,264.3 594.2,264.3 595.7,264.2 597.2,264.2 598.7,264.1 600.2,263.9 601.7,263.8 603.2,263.6 604.7,263.4 606.2,263.2 607.7,263 609.2,262.7 610.7,262.5 612.2,262.2 613.7,261.8 615.2,261.4 616.7,260.9 618.2,260.3 619.7,259.8 621.2,259.2 622.7,258.5 624.2,257.9 625.7,257.2 627.2,256.6 628.7,255.9 630.2,255.1 631.7,254.2 633.2,253.4 634.7,252.5 636.2,251.5 637.7,250.5 639.2,249.6 640.7,248.6 642.2,247.6 643.7,246.6 645.2,245.6 646.7,244.6 648.2,243.5 649.7,242.5 651.2,241.4 652.7,240.3 654.2,239.2 655.7,238.1 657.2,237.1 658.7,236.1 660.2,235.1 661.7,234.1 663.2,233.1 664.7,232.1 666.2,231.1 667.7,230.2 669.2,229.2 670.7,228.3 672.2,227.4 673.7,226.5 675.2,225.7 676.7,225 678.2,224.3 679.7,223.7 681.2,223.1 682.7,222.5 684.2,221.9 685.7,221.4 687.2,220.9 688.7,220.4 690.2,219.9 691.7,219.5 693.2,219.1 694.7,218.7 696.2,218.3 697.7,217.9 699.2,217.5 700.7,217.2 702.2,216.8 703.7,216.5 705.2,216.2 706.7,215.9 708.2,215.6 709.7,215.3 711.2,215.1 712.7,214.8 714.2,214.6" fill="none" stroke="#00ff00" stroke-width="2.6" stroke-linejoin="round" />
<polyline points="197.6,417.5 199.1,417.5 200.6,417.5 202.1,417.5 203.6,417.4 205.1,417.4 206.6,417.4 208.1,417.4 209.6,417.4 211.1,417.3 212.6,417.3 214.1,417.3 215.6,417.3 217.1,417.2 218.6,417.2 220.1,417.2 221.6,417.2 223.1,417.1 224.6,417.1 226.1,417.1 227.6,417 229.1,417 230.6,417 232.1,417 233.6,416.9 235.1,416.9 236.6,416.9 238.1,416.8 239.6,416.8 241.1,416.8 242.6,416.7 244.1,416.7 245.6,416.7 247.1,416.6 248.6,416.6 250.1,416.6 251.6,416.5 253.1,416.5 254.6,416.4 256.1,416.3 257.6,416.3 259.1,416.2 260.6,416.1 262.1,416.1 263.6,416 265.1,415.8 266.6,415.7 268.1,415.4 269.6,415.2 271.1,414.9 272.6,414.6 274.1,414.2 275.6,413.8 277.1,413.4 278.6,412.9 280.1,412.3 281.6,411.3 283.1,410.1 284.6,408.7 286.1,407.5 287.6,406.4 289.1,405.8 290.6,405.7 292.1,405.8 293.6,406.1 295.1,406.3 296.6,406.5 298.1,406.6 299.6,406.7 301.1,406.8 302.6,406.8 304.1,406.9 305.6,406.9 307.1,407 308.6,407 310.1,407 311.6,406.9 313.1,406.4 314.6,405.6 316.1,404.6 317.6,403.4 319.1,402.1 320.6,400.9 322.1,399.7 323.6,398.4 325.1,396.9 326.6,395.4 328.1,393.8 329.6,392.1 331.1,390.5 332.6,388.8 334.1,387.1 335.6,385.4 337.1,383.7 338.6,381.9 340.1,380 341.6,378.1 343.1,375.9 344.6,373.7 346.1,371.3 347.6,368.6 349.1,365.8 350.6,362.8 352.1,359.5 353.6,355.9 355.1,352.1 356.6,347.8 358.1,343 359.6,337.6 361.1,331.6 362.6,324.4 364.1,315.7 365.6,306 367.1,295.9 368.6,285.7 370.1,274.7 371.6,262.7 373.1,249.2 374.6,233.7 376.1,218 377.6,203.9 379.1,190.6 380.6,178 382.1,166.3 383.6,155 385.1,144.5 386.6,135.7 388.1,128 389.6,121.2 391.1,116.9 392.6,115.3 394.1,114.3 395.6,114.3 397.1,116 398.6,118.8 400.1,121.9 401.6,126 403.1,130.9 404.6,135.7 406.1,140.4 407.6,145.2 409.1,149.9 410.6,154.3 412.1,158.1 413.6,161.7 415.1,165.1 416.6,168.3 418.1,171 419.6,173.3 421.1,175.1 422.6,176.6 424.1,178 425.6,179.2 427.1,180.3 428.6,181.2 430.1,182.1 431.6,183 433.1,183.7 434.6,184.4 436.1,185.1 437.6,185.7 439.1,186.3 440.6,186.8 442.1,187.4 443.6,187.9 445.1,188.5 446.6,189.2 448.1,189.8 449.6,190.5 451.1,191.1 452.6,191.8 454.1,192.4 455.6,193.1 457.1,193.7 458.6,194.3 460.1,194.9 461.6,195.5 463.1,196 464.6,196.4 466.1,196.9 467.6,197.3 469.1,197.7 470.6,198 472.1,198.4 473.6,198.7 475.1,199 476.6,199.3 478.1,199.6 479.6,199.9 481.1,200.1 482.6,200.3 484.1,200.5 485.6,200.7 487.1,200.8 488.6,201 490.1,201.1 491.6,201.3 493.1,201.5 494.6,201.7 496.1,201.9 497.6,202.2 499.1,202.5 500.6,202.9 502.1,203.4 503.6,203.9 505.1,204.5 506.6,205.5 508.1,206.9 509.6,208.5 511.1,210.3 512.6,212 514.1,213.5 515.6,215 517.1,216.5 518.6,218 520.1,219.5 521.6,221.1 523.1,222.6 524.6,224.1 526.1,225.6 527.6,227.1 529.1,228.6 530.6,230.2 532.1,231.7 533.6,233.3 535.1,234.8 536.6,236.3 538.1,237.8 539.6,239.3 541.1,240.6 542.6,241.9 544.1,243.2 545.6,244.5 547.1,245.7 548.6,247 550.1,248.2 551.6,249.3 553.1,250.4 554.6,251.5 556.1,252.5 557.6,253.4 559.1,254.3 560.6,255.1 562.1,256 563.6,256.8 565.1,257.5 566.6,258.3 568.1,259 569.6,259.6 571.1,260.2 572.6,260.8 574.1,261.3 575.6,261.7 577.1,262 578.6,262.3 580.1,262.7 581.6,263 583.1,263.3 584.6,263.6 586.1,263.8 587.6,264 589.1,264.1 590.6,264.2 592.1,264.3 593.6,264.3 595.1,264.2 596.6,264.2 598.1,264.1 599.6,263.9 601.1,263.8 602.6,263.6 604.1,263.4 605.6,263.2 607.1,263 608.6,262.7 610.1,262.5 611.6,262.2 613.1,261.8 614.6,261.4 616.1,260.9 617.6,260.3 619.1,259.8 620.6,259.2 622.1,258.5 623.6,257.9 625.1,257.2 626.6,256.6 628.1,255.9 629.6,255.1 631.1,254.2 632.6,253.4 634.1,252.5 635.6,251.5 637.1,250.5 638.6,249.6 640.1,248.6 641.6,247.6 643.1,246.6 644.6,245.6 646.1,244.6 647.6,243.5 649.1,242.5 650.6,241.4 652.1,240.3 653.6,239.2 655.1,238.1 656.6,237.1 658.1,236.1 659.6,235.1 661.1,234.1 662.6,233.1 664.1,232.1 665.6,231.1 667.1,230.2 668.6,229.2 670.1,228.3 671.6,227.4 673.1,226.5 674.6,225.7 676.1,225 677.6,224.3 679.1,223.7 680.6,223.1 682.1,222.5 683.6,221.9 685.1,221.4 686.6,220.9 688.1,220.4 689.6,219.9 691.1,219.5 692.6,219.1 694.1,218.7 695.6,218.3 697.1,217.9 698.6,217.5 700.1,217.2 701.6,216.8 703.1,216.5 704.6,216.2 706.1,215.9 707.6,215.6 709.1,215.3 710.6,215.1 712.1,214.8 713.6,214.6" fill="none" stroke="#f0ae22" stroke-width="3.9" stroke-linejoin="round" />
</g>
<text x="197.9" y="462.8" font-size="27.5" text-anchor="middle" font-weight="normal"  style="">8.320</text>
<text x="327" y="462.8" font-size="27.5" text-anchor="middle" font-weight="normal"  style="">8.340</text>
<text x="456.1" y="462.8" font-size="27.5" text-anchor="middle" font-weight="normal"  style="">8.360</text>
<text x="585.2" y="462.8" font-size="27.5" text-anchor="middle" font-weight="normal"  style="">8.380</text>
<text x="714.3" y="462.8" font-size="27.5" text-anchor="middle" font-weight="normal"  style="">8.400</text>
<text x="181.5" y="427" font-size="27.5" text-anchor="end" font-weight="normal"  style="">0</text>
<text x="180" y="228.5" font-size="27.5" text-anchor="end" font-weight="normal"  style="">1</text>
<rect x="1210.3" y="40.9" width="768.4" height="4.8" fill="#000000"/>
<rect x="1210.3" y="1133.8" width="768.4" height="4" fill="#000000"/>
<rect x="1210.3" y="40.9" width="4.8" height="1096.9" fill="#000000"/>
<rect x="1973.9" y="40.9" width="4.8" height="1096.9" fill="#000000"/>
<rect x="1212.7" y="43.3" width="6.5" height="23" fill="#000000"/>
<rect x="1212.7" y="1112.8" width="6.5" height="23" fill="#000000"/>
<rect x="1215" y="43.3" width="4.5" height="24" fill="#000000"/>
<rect x="1215" y="1111.8" width="4.5" height="24" fill="#000000"/>
<rect x="1290.4" y="43.3" width="4.5" height="13" fill="#000000"/>
<rect x="1290.4" y="1122.8" width="4.5" height="13" fill="#000000"/>
<rect x="1365.9" y="43.3" width="4.5" height="24" fill="#000000"/>
<rect x="1365.9" y="1111.8" width="4.5" height="24" fill="#000000"/>
<rect x="1441.3" y="43.3" width="4.5" height="13" fill="#000000"/>
<rect x="1441.3" y="1122.8" width="4.5" height="13" fill="#000000"/>
<rect x="1516.8" y="43.3" width="4.5" height="24" fill="#000000"/>
<rect x="1516.8" y="1111.8" width="4.5" height="24" fill="#000000"/>
<rect x="1592.2" y="43.3" width="4.5" height="13" fill="#000000"/>
<rect x="1592.2" y="1122.8" width="4.5" height="13" fill="#000000"/>
<rect x="1667.7" y="43.3" width="4.5" height="24" fill="#000000"/>
<rect x="1667.7" y="1111.8" width="4.5" height="24" fill="#000000"/>
<rect x="1743.1" y="43.3" width="4.5" height="13" fill="#000000"/>
<rect x="1743.1" y="1122.8" width="4.5" height="13" fill="#000000"/>
<rect x="1818.6" y="43.3" width="4.5" height="24" fill="#000000"/>
<rect x="1818.6" y="1111.8" width="4.5" height="24" fill="#000000"/>
<rect x="1894" y="43.3" width="4.5" height="13" fill="#000000"/>
<rect x="1894" y="1122.8" width="4.5" height="13" fill="#000000"/>
<rect x="1969.5" y="43.3" width="4.5" height="24" fill="#000000"/>
<rect x="1969.5" y="1111.8" width="4.5" height="24" fill="#000000"/>
<rect x="1212.7" y="69.2" width="23.5" height="4.5" fill="#000000"/>
<rect x="1212.7" y="272.4" width="23.5" height="4.5" fill="#000000"/>
<rect x="1212.7" y="475.5" width="23.5" height="4.5" fill="#000000"/>
<rect x="1212.7" y="678.7" width="23.5" height="4.5" fill="#000000"/>
<rect x="1212.7" y="881.9" width="23.5" height="4.5" fill="#000000"/>
<rect x="1212.7" y="1085.2" width="23.5" height="4.5" fill="#000000"/>
<rect x="1952.8" y="214.2" width="23.5" height="4.5" fill="#000000"/>
<rect x="1952.8" y="445.6" width="23.5" height="4.5" fill="#000000"/>
<rect x="1952.8" y="677" width="23.5" height="4.5" fill="#000000"/>
<rect x="1952.8" y="908.5" width="23.5" height="4.5" fill="#000000"/>
<g clip-path="url(#cb)">
<polyline points="1251,1132.6 1266,1131.8 1281,1130 1296,1129.4 1311,1129 1326,1128.5 1341,1126.6 1356,1126.1 1371,1125.6 1386,1122.3 1400,1118 1417,1106.5 1432,1094.2 1447,1093.2 1462,1092.6 1477,1092 1492.4,1082.5 1506.8,1061 1523,1034.2 1537.4,1005.1 1552.8,972.8 1567.7,931.8 1582.6,865.5 1597.6,777.3 1613,641.5 1628.2,503 1643,316.3 1658.3,139.5 1673,52 1687.1,61.3 1702.8,106.7 1718.4,166.2 1734.1,222.8 1748.9,253.2 1763.8,265.7 1779,281.5 1793.9,289.3 1808.7,295.4 1824,321 1839.2,319.8 1854.4,331.5 1869.6,323 1884.1,321.5 1899.3,319.7 1914.6,314.8 1930.6,309.4 1945,325.4 1960.3,337.2 1976,358" fill="none" stroke="#000000" stroke-width="2.5" stroke-linejoin="round" />
</g>
<rect x="1241" y="1129.3" width="20" height="3.8" fill="#000000"/>
<rect x="1241" y="1132" width="20" height="3.8" fill="#000000"/>
<rect x="1256" y="1128.5" width="20" height="3.8" fill="#000000"/>
<rect x="1256" y="1131.3" width="20" height="3.8" fill="#000000"/>
<rect x="1271" y="1126.7" width="20" height="3.8" fill="#000000"/>
<rect x="1271" y="1129.5" width="20" height="3.8" fill="#000000"/>
<rect x="1286" y="1126.1" width="20" height="3.8" fill="#000000"/>
<rect x="1286" y="1128.9" width="20" height="3.8" fill="#000000"/>
<rect x="1301" y="1125.7" width="20" height="3.8" fill="#000000"/>
<rect x="1301" y="1128.5" width="20" height="3.8" fill="#000000"/>
<rect x="1316" y="1125.2" width="20" height="3.8" fill="#000000"/>
<rect x="1316" y="1128" width="20" height="3.8" fill="#000000"/>
<rect x="1331" y="1123.3" width="20" height="3.8" fill="#000000"/>
<rect x="1331" y="1126.1" width="20" height="3.8" fill="#000000"/>
<rect x="1346" y="1122.8" width="20" height="3.8" fill="#000000"/>
<rect x="1346" y="1125.6" width="20" height="3.8" fill="#000000"/>
<rect x="1361" y="1122.3" width="20" height="3.8" fill="#000000"/>
<rect x="1361" y="1125.1" width="20" height="3.8" fill="#000000"/>
<rect x="1376" y="1118.9" width="20" height="3.8" fill="#000000"/>
<rect x="1376" y="1121.9" width="20" height="3.8" fill="#000000"/>
<rect x="1390" y="1114.6" width="20" height="3.8" fill="#000000"/>
<rect x="1390" y="1117.6" width="20" height="3.8" fill="#000000"/>
<rect x="1407" y="1103" width="20" height="3.8" fill="#000000"/>
<rect x="1407" y="1106.2" width="20" height="3.8" fill="#000000"/>
<rect x="1422" y="1090.7" width="20" height="3.8" fill="#000000"/>
<rect x="1422" y="1093.9" width="20" height="3.8" fill="#000000"/>
<rect x="1437" y="1089.7" width="20" height="3.8" fill="#000000"/>
<rect x="1437" y="1092.9" width="20" height="3.8" fill="#000000"/>
<rect x="1452" y="1089.1" width="20" height="3.8" fill="#000000"/>
<rect x="1452" y="1092.3" width="20" height="3.8" fill="#000000"/>
<rect x="1467" y="1088.4" width="20" height="3.8" fill="#000000"/>
<rect x="1467" y="1091.8" width="20" height="3.8" fill="#000000"/>
<rect x="1482.4" y="1078.8" width="20" height="3.8" fill="#000000"/>
<rect x="1482.4" y="1082.4" width="20" height="3.8" fill="#000000"/>
<rect x="1496.8" y="1057.1" width="20" height="3.8" fill="#000000"/>
<rect x="1496.8" y="1061.1" width="20" height="3.8" fill="#000000"/>
<rect x="1513" y="1030.3" width="20" height="3.8" fill="#000000"/>
<rect x="1513" y="1034.3" width="20" height="3.8" fill="#000000"/>
<rect x="1527.4" y="1001.2" width="20" height="3.8" fill="#000000"/>
<rect x="1527.4" y="1005.2" width="20" height="3.8" fill="#000000"/>
<rect x="1542.8" y="968.7" width="20" height="3.8" fill="#000000"/>
<rect x="1542.8" y="973.1" width="20" height="3.8" fill="#000000"/>
<rect x="1557.7" y="927.5" width="20" height="3.8" fill="#000000"/>
<rect x="1557.7" y="932.3" width="20" height="3.8" fill="#000000"/>
<rect x="1572.6" y="860.3" width="20" height="3.8" fill="#000000"/>
<rect x="1572.6" y="866.9" width="20" height="3.8" fill="#000000"/>
<rect x="1587.6" y="771.9" width="20" height="3.8" fill="#000000"/>
<rect x="1587.6" y="778.9" width="20" height="3.8" fill="#000000"/>
<rect x="1603" y="636" width="20" height="3.8" fill="#000000"/>
<rect x="1603" y="643.2" width="20" height="3.8" fill="#000000"/>
<rect x="1618.2" y="497.5" width="20" height="3.8" fill="#000000"/>
<rect x="1618.2" y="504.7" width="20" height="3.8" fill="#000000"/>
<rect x="1633" y="310.6" width="20" height="3.8" fill="#000000"/>
<rect x="1633" y="318.2" width="20" height="3.8" fill="#000000"/>
<rect x="1648.3" y="133.7" width="20" height="3.8" fill="#000000"/>
<rect x="1648.3" y="141.5" width="20" height="3.8" fill="#000000"/>
<rect x="1663" y="46.1" width="20" height="3.8" fill="#000000"/>
<rect x="1663" y="54.1" width="20" height="3.8" fill="#000000"/>
<rect x="1677.1" y="55.4" width="20" height="3.8" fill="#000000"/>
<rect x="1677.1" y="63.4" width="20" height="3.8" fill="#000000"/>
<rect x="1692.8" y="100.8" width="20" height="3.8" fill="#000000"/>
<rect x="1692.8" y="108.8" width="20" height="3.8" fill="#000000"/>
<rect x="1708.4" y="160.1" width="20" height="3.8" fill="#000000"/>
<rect x="1708.4" y="168.5" width="20" height="3.8" fill="#000000"/>
<rect x="1724.1" y="216.2" width="20" height="3.8" fill="#000000"/>
<rect x="1724.1" y="225.6" width="20" height="3.8" fill="#000000"/>
<rect x="1738.9" y="246.6" width="20" height="3.8" fill="#000000"/>
<rect x="1738.9" y="256" width="20" height="3.8" fill="#000000"/>
<rect x="1753.8" y="259.6" width="20" height="3.8" fill="#000000"/>
<rect x="1753.8" y="268" width="20" height="3.8" fill="#000000"/>
<rect x="1769" y="275.3" width="20" height="3.8" fill="#000000"/>
<rect x="1769" y="283.9" width="20" height="3.8" fill="#000000"/>
<rect x="1783.9" y="283.2" width="20" height="3.8" fill="#000000"/>
<rect x="1783.9" y="291.6" width="20" height="3.8" fill="#000000"/>
<rect x="1798.7" y="288.6" width="20" height="3.8" fill="#000000"/>
<rect x="1798.7" y="298.4" width="20" height="3.8" fill="#000000"/>
<rect x="1814" y="314.2" width="20" height="3.8" fill="#000000"/>
<rect x="1814" y="324" width="20" height="3.8" fill="#000000"/>
<rect x="1829.2" y="313.7" width="20" height="3.8" fill="#000000"/>
<rect x="1829.2" y="322.1" width="20" height="3.8" fill="#000000"/>
<rect x="1844.4" y="326.6" width="20" height="3.8" fill="#000000"/>
<rect x="1844.4" y="332.6" width="20" height="3.8" fill="#000000"/>
<rect x="1859.6" y="316.5" width="20" height="3.8" fill="#000000"/>
<rect x="1859.6" y="325.7" width="20" height="3.8" fill="#000000"/>
<rect x="1874.1" y="314.9" width="20" height="3.8" fill="#000000"/>
<rect x="1874.1" y="324.3" width="20" height="3.8" fill="#000000"/>
<rect x="1889.3" y="312.9" width="20" height="3.8" fill="#000000"/>
<rect x="1889.3" y="322.7" width="20" height="3.8" fill="#000000"/>
<rect x="1904.6" y="308.3" width="20" height="3.8" fill="#000000"/>
<rect x="1904.6" y="317.5" width="20" height="3.8" fill="#000000"/>
<rect x="1920.6" y="303" width="20" height="3.8" fill="#000000"/>
<rect x="1920.6" y="312" width="20" height="3.8" fill="#000000"/>
<rect x="1935" y="319" width="20" height="3.8" fill="#000000"/>
<rect x="1935" y="328" width="20" height="3.8" fill="#000000"/>
<rect x="1950.3" y="330.4" width="20" height="3.8" fill="#000000"/>
<rect x="1950.3" y="340.2" width="20" height="3.8" fill="#000000"/>
<g clip-path="url(#cb)">
<polyline points="1206,1020 1221.1,1038.6 1235.9,1003.8 1250.6,1028.7 1266,995.8 1280.8,1045.6 1295.5,983.9 1311,996.8 1326.4,945.6 1341.8,993.7 1356.6,964.9 1371.3,977.9 1386.8,1012.2 1400.8,928 1416.9,916 1432,939.8 1447.2,890 1462.3,923.2 1477.3,905.2 1492.6,893 1507,843.1 1522.3,776 1537.3,723.4 1552.6,661.3 1568.2,649.5 1582.3,505.8 1598,322.5 1612.9,178.6 1628.6,75.7 1643.3,124.2 1658.9,214.6 1674,310.1 1688.7,366.4 1704.3,321.3 1719.3,366.5 1734.1,472.4 1749.1,508.5 1763.8,575.3 1778.8,608.2 1793.9,683.7 1809.7,676 1824.2,671.4 1839.4,653.4 1854.6,687.9 1869.7,713 1884.9,683.2 1899.4,721.1 1914.5,775.2 1930.4,812.9 1944.9,850 1959.7,878.3 1975,955" fill="none" stroke="#ff0000" stroke-width="2.8" stroke-linejoin="round" />
</g>
<rect x="1211.3" y="1016.8" width="19.6" height="3.5" fill="#ff0000"/>
<rect x="1211.3" y="1056.8" width="19.6" height="3.5" fill="#ff0000"/>
<rect x="1219.2" y="1018.6" width="3.8" height="40" fill="#ff0000"/>
<rect x="1226.1" y="981.8" width="19.6" height="3.5" fill="#ff0000"/>
<rect x="1226.1" y="1022.3" width="19.6" height="3.5" fill="#ff0000"/>
<rect x="1234" y="983.5" width="3.8" height="40.6" fill="#ff0000"/>
<rect x="1240.8" y="1006.2" width="19.6" height="3.5" fill="#ff0000"/>
<rect x="1240.8" y="1047.7" width="19.6" height="3.5" fill="#ff0000"/>
<rect x="1248.7" y="1008" width="3.8" height="41.4" fill="#ff0000"/>
<rect x="1256.2" y="972.6" width="19.6" height="3.5" fill="#ff0000"/>
<rect x="1256.2" y="1015.4" width="19.6" height="3.5" fill="#ff0000"/>
<rect x="1264.1" y="974.4" width="3.8" height="42.8" fill="#ff0000"/>
<rect x="1271" y="1023.1" width="19.6" height="3.5" fill="#ff0000"/>
<rect x="1271" y="1064.5" width="19.6" height="3.5" fill="#ff0000"/>
<rect x="1278.9" y="1024.9" width="3.8" height="41.4" fill="#ff0000"/>
<rect x="1285.7" y="960.8" width="19.6" height="3.5" fill="#ff0000"/>
<rect x="1285.7" y="1003.5" width="19.6" height="3.5" fill="#ff0000"/>
<rect x="1293.6" y="962.5" width="3.8" height="42.8" fill="#ff0000"/>
<rect x="1301.2" y="973.2" width="19.6" height="3.5" fill="#ff0000"/>
<rect x="1301.2" y="1016.8" width="19.6" height="3.5" fill="#ff0000"/>
<rect x="1309.1" y="975" width="3.8" height="43.6" fill="#ff0000"/>
<rect x="1316.6" y="922.1" width="19.6" height="3.5" fill="#ff0000"/>
<rect x="1316.6" y="965.6" width="19.6" height="3.5" fill="#ff0000"/>
<rect x="1324.5" y="923.9" width="3.8" height="43.4" fill="#ff0000"/>
<rect x="1332" y="970.6" width="19.6" height="3.5" fill="#ff0000"/>
<rect x="1332" y="1013.4" width="19.6" height="3.5" fill="#ff0000"/>
<rect x="1339.9" y="972.3" width="3.8" height="42.8" fill="#ff0000"/>
<rect x="1346.8" y="941.8" width="19.6" height="3.5" fill="#ff0000"/>
<rect x="1346.8" y="984.5" width="19.6" height="3.5" fill="#ff0000"/>
<rect x="1354.7" y="943.5" width="3.8" height="42.8" fill="#ff0000"/>
<rect x="1361.5" y="955" width="19.6" height="3.5" fill="#ff0000"/>
<rect x="1361.5" y="997.2" width="19.6" height="3.5" fill="#ff0000"/>
<rect x="1369.4" y="956.8" width="3.8" height="42.2" fill="#ff0000"/>
<rect x="1377" y="989.5" width="19.6" height="3.5" fill="#ff0000"/>
<rect x="1377" y="1031.5" width="19.6" height="3.5" fill="#ff0000"/>
<rect x="1384.9" y="991.2" width="3.8" height="42" fill="#ff0000"/>
<rect x="1391" y="904.2" width="19.6" height="3.5" fill="#ff0000"/>
<rect x="1391" y="948.2" width="19.6" height="3.5" fill="#ff0000"/>
<rect x="1398.9" y="906" width="3.8" height="44" fill="#ff0000"/>
<rect x="1407.1" y="892.6" width="19.6" height="3.5" fill="#ff0000"/>
<rect x="1407.1" y="935.9" width="19.6" height="3.5" fill="#ff0000"/>
<rect x="1415" y="894.4" width="3.8" height="43.2" fill="#ff0000"/>
<rect x="1422.2" y="918.5" width="19.6" height="3.5" fill="#ff0000"/>
<rect x="1422.2" y="957.5" width="19.6" height="3.5" fill="#ff0000"/>
<rect x="1430.1" y="920.3" width="3.8" height="39" fill="#ff0000"/>
<rect x="1437.4" y="866.6" width="19.6" height="3.5" fill="#ff0000"/>
<rect x="1437.4" y="909.9" width="19.6" height="3.5" fill="#ff0000"/>
<rect x="1445.3" y="868.4" width="3.8" height="43.2" fill="#ff0000"/>
<rect x="1452.5" y="899.9" width="19.6" height="3.5" fill="#ff0000"/>
<rect x="1452.5" y="943.1" width="19.6" height="3.5" fill="#ff0000"/>
<rect x="1460.4" y="901.6" width="3.8" height="43.2" fill="#ff0000"/>
<rect x="1467.5" y="881.1" width="19.6" height="3.5" fill="#ff0000"/>
<rect x="1467.5" y="925.9" width="19.6" height="3.5" fill="#ff0000"/>
<rect x="1475.4" y="882.8" width="3.8" height="44.8" fill="#ff0000"/>
<rect x="1482.8" y="869" width="19.6" height="3.5" fill="#ff0000"/>
<rect x="1482.8" y="913.5" width="19.6" height="3.5" fill="#ff0000"/>
<rect x="1490.7" y="870.8" width="3.8" height="44.4" fill="#ff0000"/>
<rect x="1497.2" y="819.1" width="19.6" height="3.5" fill="#ff0000"/>
<rect x="1497.2" y="863.6" width="19.6" height="3.5" fill="#ff0000"/>
<rect x="1505.1" y="820.8" width="3.8" height="44.6" fill="#ff0000"/>
<rect x="1512.5" y="751.2" width="19.6" height="3.5" fill="#ff0000"/>
<rect x="1512.5" y="797.2" width="19.6" height="3.5" fill="#ff0000"/>
<rect x="1520.4" y="753" width="3.8" height="46" fill="#ff0000"/>
<rect x="1527.5" y="697.9" width="19.6" height="3.5" fill="#ff0000"/>
<rect x="1527.5" y="745.4" width="19.6" height="3.5" fill="#ff0000"/>
<rect x="1535.4" y="699.6" width="3.8" height="47.6" fill="#ff0000"/>
<rect x="1542.8" y="635.8" width="19.6" height="3.5" fill="#ff0000"/>
<rect x="1542.8" y="683.3" width="19.6" height="3.5" fill="#ff0000"/>
<rect x="1550.7" y="637.5" width="3.8" height="47.6" fill="#ff0000"/>
<rect x="1558.4" y="623.9" width="19.6" height="3.5" fill="#ff0000"/>
<rect x="1558.4" y="671.6" width="19.6" height="3.5" fill="#ff0000"/>
<rect x="1566.3" y="625.6" width="3.8" height="47.8" fill="#ff0000"/>
<rect x="1572.5" y="478.7" width="19.6" height="3.5" fill="#ff0000"/>
<rect x="1572.5" y="529.5" width="19.6" height="3.5" fill="#ff0000"/>
<rect x="1580.4" y="480.4" width="3.8" height="50.8" fill="#ff0000"/>
<rect x="1588.2" y="294.2" width="19.6" height="3.5" fill="#ff0000"/>
<rect x="1588.2" y="347.2" width="19.6" height="3.5" fill="#ff0000"/>
<rect x="1596.1" y="296" width="3.8" height="53" fill="#ff0000"/>
<rect x="1603.1" y="148.8" width="19.6" height="3.5" fill="#ff0000"/>
<rect x="1603.1" y="204.9" width="19.6" height="3.5" fill="#ff0000"/>
<rect x="1611" y="150.5" width="3.8" height="56.2" fill="#ff0000"/>
<rect x="1618.8" y="45.5" width="19.6" height="3.5" fill="#ff0000"/>
<rect x="1618.8" y="102.5" width="19.6" height="3.5" fill="#ff0000"/>
<rect x="1626.7" y="47.2" width="3.8" height="57" fill="#ff0000"/>
<rect x="1633.5" y="94.7" width="19.6" height="3.5" fill="#ff0000"/>
<rect x="1633.5" y="150.2" width="19.6" height="3.5" fill="#ff0000"/>
<rect x="1641.4" y="96.4" width="3.8" height="55.6" fill="#ff0000"/>
<rect x="1649.1" y="184.8" width="19.6" height="3.5" fill="#ff0000"/>
<rect x="1649.1" y="240.9" width="19.6" height="3.5" fill="#ff0000"/>
<rect x="1657" y="186.5" width="3.8" height="56.2" fill="#ff0000"/>
<rect x="1664.2" y="281.8" width="19.6" height="3.5" fill="#ff0000"/>
<rect x="1664.2" y="335" width="19.6" height="3.5" fill="#ff0000"/>
<rect x="1672.1" y="283.5" width="3.8" height="53.2" fill="#ff0000"/>
<rect x="1678.9" y="338.1" width="19.6" height="3.5" fill="#ff0000"/>
<rect x="1678.9" y="391.1" width="19.6" height="3.5" fill="#ff0000"/>
<rect x="1686.8" y="339.9" width="3.8" height="53" fill="#ff0000"/>
<rect x="1694.5" y="293.9" width="19.6" height="3.5" fill="#ff0000"/>
<rect x="1694.5" y="345.2" width="19.6" height="3.5" fill="#ff0000"/>
<rect x="1702.4" y="295.6" width="3.8" height="51.4" fill="#ff0000"/>
<rect x="1709.5" y="338.2" width="19.6" height="3.5" fill="#ff0000"/>
<rect x="1709.5" y="391.2" width="19.6" height="3.5" fill="#ff0000"/>
<rect x="1717.4" y="340" width="3.8" height="53" fill="#ff0000"/>
<rect x="1724.3" y="445" width="19.6" height="3.5" fill="#ff0000"/>
<rect x="1724.3" y="496.2" width="19.6" height="3.5" fill="#ff0000"/>
<rect x="1732.2" y="446.8" width="3.8" height="51.2" fill="#ff0000"/>
<rect x="1739.3" y="481.2" width="19.6" height="3.5" fill="#ff0000"/>
<rect x="1739.3" y="532.2" width="19.6" height="3.5" fill="#ff0000"/>
<rect x="1747.2" y="483" width="3.8" height="51" fill="#ff0000"/>
<rect x="1754" y="548.5" width="19.6" height="3.5" fill="#ff0000"/>
<rect x="1754" y="598.5" width="19.6" height="3.5" fill="#ff0000"/>
<rect x="1761.9" y="550.3" width="3.8" height="50" fill="#ff0000"/>
<rect x="1769" y="582.1" width="19.6" height="3.5" fill="#ff0000"/>
<rect x="1769" y="630.9" width="19.6" height="3.5" fill="#ff0000"/>
<rect x="1776.9" y="583.8" width="3.8" height="48.8" fill="#ff0000"/>
<rect x="1784.1" y="657.9" width="19.6" height="3.5" fill="#ff0000"/>
<rect x="1784.1" y="706.1" width="19.6" height="3.5" fill="#ff0000"/>
<rect x="1792" y="659.6" width="3.8" height="48.2" fill="#ff0000"/>
<rect x="1799.9" y="650.2" width="19.6" height="3.5" fill="#ff0000"/>
<rect x="1799.9" y="698.2" width="19.6" height="3.5" fill="#ff0000"/>
<rect x="1807.8" y="652" width="3.8" height="48" fill="#ff0000"/>
<rect x="1814.4" y="645.4" width="19.6" height="3.5" fill="#ff0000"/>
<rect x="1814.4" y="693.9" width="19.6" height="3.5" fill="#ff0000"/>
<rect x="1822.3" y="647.1" width="3.8" height="48.6" fill="#ff0000"/>
<rect x="1829.6" y="627.5" width="19.6" height="3.5" fill="#ff0000"/>
<rect x="1829.6" y="675.8" width="19.6" height="3.5" fill="#ff0000"/>
<rect x="1837.5" y="629.3" width="3.8" height="48.2" fill="#ff0000"/>
<rect x="1844.8" y="662.2" width="19.6" height="3.5" fill="#ff0000"/>
<rect x="1844.8" y="710" width="19.6" height="3.5" fill="#ff0000"/>
<rect x="1852.7" y="664" width="3.8" height="47.8" fill="#ff0000"/>
<rect x="1859.9" y="687.1" width="19.6" height="3.5" fill="#ff0000"/>
<rect x="1859.9" y="735.4" width="19.6" height="3.5" fill="#ff0000"/>
<rect x="1867.8" y="688.9" width="3.8" height="48.2" fill="#ff0000"/>
<rect x="1875.1" y="657.9" width="19.6" height="3.5" fill="#ff0000"/>
<rect x="1875.1" y="705.1" width="19.6" height="3.5" fill="#ff0000"/>
<rect x="1883" y="659.6" width="3.8" height="47.2" fill="#ff0000"/>
<rect x="1889.6" y="695.6" width="19.6" height="3.5" fill="#ff0000"/>
<rect x="1889.6" y="743.1" width="19.6" height="3.5" fill="#ff0000"/>
<rect x="1897.5" y="697.3" width="3.8" height="47.6" fill="#ff0000"/>
<rect x="1904.7" y="749.9" width="19.6" height="3.5" fill="#ff0000"/>
<rect x="1904.7" y="797.1" width="19.6" height="3.5" fill="#ff0000"/>
<rect x="1912.6" y="751.6" width="3.8" height="47.2" fill="#ff0000"/>
<rect x="1920.6" y="788.2" width="19.6" height="3.5" fill="#ff0000"/>
<rect x="1920.6" y="834" width="19.6" height="3.5" fill="#ff0000"/>
<rect x="1928.5" y="790" width="3.8" height="45.8" fill="#ff0000"/>
<rect x="1935.1" y="826.4" width="19.6" height="3.5" fill="#ff0000"/>
<rect x="1935.1" y="870.1" width="19.6" height="3.5" fill="#ff0000"/>
<rect x="1943" y="828.1" width="3.8" height="43.8" fill="#ff0000"/>
<rect x="1949.9" y="855" width="19.6" height="3.5" fill="#ff0000"/>
<rect x="1949.9" y="898" width="19.6" height="3.5" fill="#ff0000"/>
<rect x="1957.8" y="856.8" width="3.8" height="43" fill="#ff0000"/>
<text x="0" y="0" font-size="31.3" text-anchor="middle" font-weight="normal" transform="translate(1217.6,1177.4) scale(0.9750,1)">8.320</text>
<text x="0" y="0" font-size="31.3" text-anchor="middle" font-weight="normal" transform="translate(1368.5,1177.4) scale(0.9750,1)">8.330</text>
<text x="0" y="0" font-size="31.3" text-anchor="middle" font-weight="normal" transform="translate(1519.4,1177.4) scale(0.9750,1)">8.340</text>
<text x="0" y="0" font-size="31.3" text-anchor="middle" font-weight="normal" transform="translate(1670.3,1177.4) scale(0.9750,1)">8.350</text>
<text x="0" y="0" font-size="31.3" text-anchor="middle" font-weight="normal" transform="translate(1821.2,1177.4) scale(0.9750,1)">8.360</text>
<text x="0" y="0" font-size="31.3" text-anchor="middle" font-weight="normal" transform="translate(1972.1,1177.4) scale(0.9750,1)">8.370</text>
<text x="0" y="0" font-size="45" text-anchor="middle" transform="translate(1596,1237.1) scale(0.969,1)">Energy (keV)</text>
<text x="0" y="0" font-size="44" text-anchor="middle" transform="translate(1113.2,592.5) rotate(-90) scale(1.02,1)">XRD (1/2 1/2 1/2)</text>
<text x="0" y="0" font-size="44.5" text-anchor="middle" transform="translate(2067.3,589.6) rotate(90) scale(0.967,1)">XAS</text>
<text x="1069.5" y="24.4" font-size="33" text-anchor="start" font-weight="bold"  style="">b</text>
<rect x="1318.8" y="305.9" width="59.1" height="4" fill="#ff0000"/>
<rect x="1318.8" y="340.2" width="59.1" height="4" fill="#000000"/>
<text x="1390.2" y="317.7" font-size="31" text-anchor="start" font-weight="normal"  style="">XRD</text>
<text x="1390.2" y="351.7" font-size="31" text-anchor="start" font-weight="normal"  style="">XAS</text>
</svg>
</body></html>
